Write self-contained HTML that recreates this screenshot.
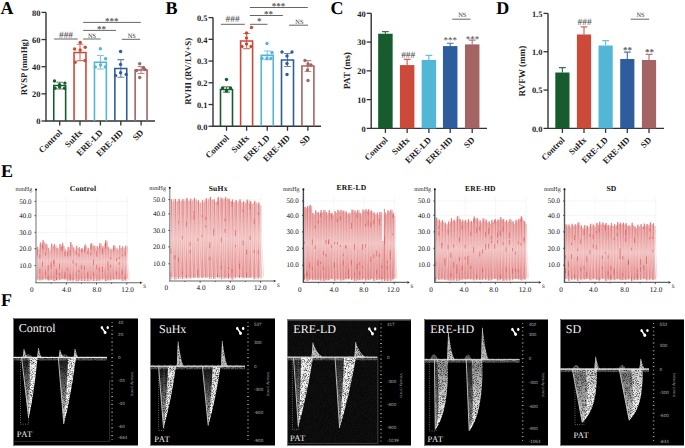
<!DOCTYPE html>
<html><head><meta charset="utf-8"><style>html,body{margin:0;padding:0;background:#fff;}svg{display:block;text-rendering:geometricPrecision;}</style></head>
<body><svg width="685" height="448" viewBox="0 0 685 448"><defs>
<linearGradient id="wg36" gradientUnits="userSpaceOnUse" x1="0" x2="0" y1="240.15" y2="282.8"><stop offset="0" stop-color="#d45a5a"/><stop offset="0.2" stop-color="#dc7272"/><stop offset="0.5" stop-color="#efb6b6"/><stop offset="0.8" stop-color="#dc7272"/><stop offset="1" stop-color="#d45a5a"/></linearGradient><linearGradient id="wg169" gradientUnits="userSpaceOnUse" x1="0" x2="0" y1="196.88" y2="281"><stop offset="0" stop-color="#d45a5a"/><stop offset="0.2" stop-color="#dc7272"/><stop offset="0.5" stop-color="#efb6b6"/><stop offset="0.8" stop-color="#dc7272"/><stop offset="1" stop-color="#d45a5a"/></linearGradient><linearGradient id="wg303" gradientUnits="userSpaceOnUse" x1="0" x2="0" y1="204.82" y2="282.4"><stop offset="0" stop-color="#d45a5a"/><stop offset="0.2" stop-color="#dc7272"/><stop offset="0.5" stop-color="#efb6b6"/><stop offset="0.8" stop-color="#dc7272"/><stop offset="1" stop-color="#d45a5a"/></linearGradient><linearGradient id="wg434" gradientUnits="userSpaceOnUse" x1="0" x2="0" y1="216.28" y2="282.4"><stop offset="0" stop-color="#d45a5a"/><stop offset="0.2" stop-color="#dc7272"/><stop offset="0.5" stop-color="#efb6b6"/><stop offset="0.8" stop-color="#dc7272"/><stop offset="1" stop-color="#d45a5a"/></linearGradient><linearGradient id="wg564" gradientUnits="userSpaceOnUse" x1="0" x2="0" y1="221.84" y2="282.4"><stop offset="0" stop-color="#d45a5a"/><stop offset="0.2" stop-color="#dc7272"/><stop offset="0.5" stop-color="#efb6b6"/><stop offset="0.8" stop-color="#dc7272"/><stop offset="1" stop-color="#d45a5a"/></linearGradient><linearGradient id="vg5" x1="0" x2="0" y1="0" y2="1"><stop offset="0" stop-color="#fff" stop-opacity="0.08"/><stop offset="1" stop-color="#fff" stop-opacity="0.9"/></linearGradient><linearGradient id="vg5b" x1="0" x2="0" y1="0" y2="1"><stop offset="0" stop-color="#fff" stop-opacity="0.95"/><stop offset="1" stop-color="#fff" stop-opacity="0.95"/></linearGradient><linearGradient id="vg7" x1="0" x2="0" y1="0" y2="1"><stop offset="0" stop-color="#fff" stop-opacity="0.06"/><stop offset="1" stop-color="#fff" stop-opacity="0.75"/></linearGradient><linearGradient id="vg7b" x1="0" x2="0" y1="0" y2="1"><stop offset="0" stop-color="#fff" stop-opacity="0.9"/><stop offset="1" stop-color="#fff" stop-opacity="0.9"/></linearGradient><linearGradient id="vg9" x1="0" x2="0" y1="0" y2="1"><stop offset="0" stop-color="#fff" stop-opacity="0.1"/><stop offset="1" stop-color="#fff" stop-opacity="0.55"/></linearGradient><linearGradient id="vg9b" x1="0" x2="0" y1="0" y2="1"><stop offset="0" stop-color="#fff" stop-opacity="0.95"/><stop offset="1" stop-color="#fff" stop-opacity="0.95"/></linearGradient><linearGradient id="vg11" x1="0" x2="0" y1="0" y2="1"><stop offset="0" stop-color="#fff" stop-opacity="0.1"/><stop offset="1" stop-color="#fff" stop-opacity="0.6"/></linearGradient><linearGradient id="vg11b" x1="0" x2="0" y1="0" y2="1"><stop offset="0" stop-color="#fff" stop-opacity="0.475"/><stop offset="1" stop-color="#fff" stop-opacity="0.95"/></linearGradient><linearGradient id="vg13" x1="0" x2="0" y1="0" y2="1"><stop offset="0" stop-color="#fff" stop-opacity="0.45"/><stop offset="1" stop-color="#fff" stop-opacity="0.85"/></linearGradient><linearGradient id="vg13b" x1="0" x2="0" y1="0" y2="1"><stop offset="0" stop-color="#fff" stop-opacity="0.63"/><stop offset="1" stop-color="#fff" stop-opacity="0.9"/></linearGradient>
<linearGradient id="vg" x1="0" x2="1" y1="0" y2="0"><stop offset="0" stop-color="#fff" stop-opacity="0.5"/><stop offset="0.55" stop-color="#fff" stop-opacity="0.75"/><stop offset="1" stop-color="#fff" stop-opacity="1"/></linearGradient>
<linearGradient id="vg2" x1="0" x2="1" y1="0" y2="0"><stop offset="0" stop-color="#fff" stop-opacity="0.05"/><stop offset="1" stop-color="#fff" stop-opacity="0.2"/></linearGradient>
<filter id="spk" filterUnits="userSpaceOnUse" x="0" y="300" width="685" height="148"><feTurbulence type="fractalNoise" baseFrequency="1.6" numOctaves="1" seed="3" result="n"/><feColorMatrix in="n" type="matrix" values="0 0 0 0 1  0 0 0 0 1  0 0 0 0 1  0 0 0 2.2 -0.25" result="m"/><feComposite in="SourceGraphic" in2="m" operator="in" result="c"/><feGaussianBlur in="c" stdDeviation="0.35"/></filter>
</defs>
<rect width="685" height="448" fill="#fff"/>
<text x="0.6" y="13.6" font-family="Liberation Serif" font-weight="bold" font-size="18">A</text>
<text x="165.6" y="13.6" font-family="Liberation Serif" font-weight="bold" font-size="18">B</text>
<text x="330.4" y="13.6" font-family="Liberation Serif" font-weight="bold" font-size="18">C</text>
<text x="496.2" y="13.6" font-family="Liberation Serif" font-weight="bold" font-size="18">D</text>
<text x="1" y="176.6" font-family="Liberation Serif" font-weight="bold" font-size="18">E</text>
<text x="1" y="305.8" font-family="Liberation Serif" font-weight="bold" font-size="18">F</text>
<path d="M46 12.4V121H155" fill="none" stroke="#333" stroke-width="1.4"/>
<line x1="41.5" y1="121" x2="46" y2="121" stroke="#333" stroke-width="1.3"/>
<text x="40.4" y="124.4" font-family="Liberation Serif" font-weight="bold" font-size="8.4" text-anchor="end" fill="#222">0</text>
<line x1="41.5" y1="93.85" x2="46" y2="93.85" stroke="#333" stroke-width="1.3"/>
<text x="40.4" y="97.25" font-family="Liberation Serif" font-weight="bold" font-size="8.4" text-anchor="end" fill="#222">20</text>
<line x1="41.5" y1="66.7" x2="46" y2="66.7" stroke="#333" stroke-width="1.3"/>
<text x="40.4" y="70.1" font-family="Liberation Serif" font-weight="bold" font-size="8.4" text-anchor="end" fill="#222">40</text>
<line x1="41.5" y1="39.55" x2="46" y2="39.55" stroke="#333" stroke-width="1.3"/>
<text x="40.4" y="42.95" font-family="Liberation Serif" font-weight="bold" font-size="8.4" text-anchor="end" fill="#222">60</text>
<line x1="41.5" y1="12.4" x2="46" y2="12.4" stroke="#333" stroke-width="1.3"/>
<text x="40.4" y="15.8" font-family="Liberation Serif" font-weight="bold" font-size="8.4" text-anchor="end" fill="#222">80</text>
<line x1="59.7" y1="121" x2="59.7" y2="125.5" stroke="#333" stroke-width="1.3"/>
<text transform="translate(62.6,133.2) rotate(-45)" font-family="Liberation Serif" font-weight="bold" font-size="8.7" text-anchor="end" fill="#222">Control</text>
<line x1="80" y1="121" x2="80" y2="125.5" stroke="#333" stroke-width="1.3"/>
<text transform="translate(82.9,133.2) rotate(-45)" font-family="Liberation Serif" font-weight="bold" font-size="8.7" text-anchor="end" fill="#222">SuHx</text>
<line x1="100.4" y1="121" x2="100.4" y2="125.5" stroke="#333" stroke-width="1.3"/>
<text transform="translate(103.3,133.2) rotate(-45)" font-family="Liberation Serif" font-weight="bold" font-size="8.7" text-anchor="end" fill="#222">ERE-LD</text>
<line x1="120.8" y1="121" x2="120.8" y2="125.5" stroke="#333" stroke-width="1.3"/>
<text transform="translate(123.7,133.2) rotate(-45)" font-family="Liberation Serif" font-weight="bold" font-size="8.7" text-anchor="end" fill="#222">ERE-HD</text>
<line x1="141.1" y1="121" x2="141.1" y2="125.5" stroke="#333" stroke-width="1.3"/>
<text transform="translate(144,133.2) rotate(-45)" font-family="Liberation Serif" font-weight="bold" font-size="8.7" text-anchor="end" fill="#222">SD</text>
<text transform="translate(27,67.2) rotate(-90)" font-family="Liberation Serif" font-weight="bold" font-size="8.8" text-anchor="middle" fill="#222">RVSP (mmHg)</text>
<path d="M53.75 121V85.57H65.65V121" fill="none" stroke="#165c2e" stroke-width="1.6"/>
<path d="M59.7 88.96V82.18M56.3 82.18H63.1M56.3 88.96H63.1" stroke="#165c2e" stroke-width="1.1" fill="none" opacity="0.75"/>
<path d="M74.05 121V52.45H85.95V121" fill="none" stroke="#cc4a3a" stroke-width="1.6"/>
<path d="M80 60.59V44.3M76.6 44.3H83.4M76.6 60.59H83.4" stroke="#cc4a3a" stroke-width="1.1" fill="none" opacity="0.75"/>
<path d="M94.45 121V62.22H106.35V121" fill="none" stroke="#52b6d6" stroke-width="1.6"/>
<path d="M100.4 69.01V55.43M97 55.43H103.8M97 69.01H103.8" stroke="#52b6d6" stroke-width="1.1" fill="none" opacity="0.75"/>
<path d="M114.85 121V68.46H126.75V121" fill="none" stroke="#2e5d9e" stroke-width="1.6"/>
<path d="M120.8 77.29V59.64M117.4 59.64H124.2M117.4 77.29H124.2" stroke="#2e5d9e" stroke-width="1.1" fill="none" opacity="0.75"/>
<path d="M135.15 121V69.96H147.05V121" fill="none" stroke="#a56464" stroke-width="1.6"/>
<path d="M141.1 73.49V66.43M137.7 66.43H144.5M137.7 73.49H144.5" stroke="#a56464" stroke-width="1.1" fill="none" opacity="0.75"/>
<circle cx="54.5" cy="81" r="1.7" fill="#165c2e"/>
<circle cx="59.5" cy="84.7" r="1.7" fill="#165c2e"/>
<circle cx="64.9" cy="83.1" r="1.7" fill="#165c2e"/>
<circle cx="55" cy="88.3" r="1.7" fill="#165c2e"/>
<circle cx="64.5" cy="88.2" r="1.7" fill="#165c2e"/>
<circle cx="59.6" cy="87" r="1.7" fill="#165c2e"/>
<circle cx="80.2" cy="42.5" r="1.7" fill="#cc4a3a"/>
<circle cx="74.6" cy="49" r="1.7" fill="#cc4a3a"/>
<circle cx="80.2" cy="50" r="1.7" fill="#cc4a3a"/>
<circle cx="85.2" cy="47.2" r="1.7" fill="#cc4a3a"/>
<circle cx="75.2" cy="62.2" r="1.7" fill="#cc4a3a"/>
<circle cx="84.9" cy="60.6" r="1.7" fill="#cc4a3a"/>
<circle cx="100.3" cy="48.7" r="1.7" fill="#52b6d6"/>
<circle cx="105.6" cy="58.7" r="1.7" fill="#52b6d6"/>
<circle cx="100.6" cy="65" r="1.7" fill="#52b6d6"/>
<circle cx="95.3" cy="66.9" r="1.7" fill="#52b6d6"/>
<circle cx="105.3" cy="66.9" r="1.7" fill="#52b6d6"/>
<circle cx="120.6" cy="51.5" r="1.7" fill="#2e5d9e"/>
<circle cx="120.6" cy="64.4" r="1.7" fill="#2e5d9e"/>
<circle cx="120.6" cy="72.7" r="1.7" fill="#2e5d9e"/>
<circle cx="115.6" cy="75.6" r="1.7" fill="#2e5d9e"/>
<circle cx="126.2" cy="74.4" r="1.7" fill="#2e5d9e"/>
<circle cx="139.7" cy="63.7" r="1.7" fill="#a56464"/>
<circle cx="139.7" cy="77.5" r="1.7" fill="#a56464"/>
<circle cx="143.5" cy="67.8" r="1.7" fill="#a56464"/>
<circle cx="145" cy="69.5" r="1.7" fill="#a56464"/>
<circle cx="136.5" cy="70.5" r="1.7" fill="#a56464"/>
<line x1="54.1" y1="39" x2="77.8" y2="39" stroke="#666" stroke-width="1"/>
<text x="66" y="37.6" font-family="Liberation Serif" font-size="9.4" text-anchor="middle" fill="#444">###</text>
<line x1="83.1" y1="39" x2="100.7" y2="39" stroke="#666" stroke-width="1"/>
<text x="92" y="37.6" font-family="Liberation Serif" font-size="6.4" text-anchor="middle" fill="#333">NS</text>
<line x1="83.1" y1="30.4" x2="116" y2="30.4" stroke="#666" stroke-width="1"/>
<text x="101.4" y="31.6" font-family="Liberation Serif" font-weight="bold" font-size="9" text-anchor="middle" fill="#555">**</text>
<line x1="83.1" y1="22.4" x2="140.9" y2="22.4" stroke="#666" stroke-width="1"/>
<text x="111.7" y="23.6" font-family="Liberation Serif" font-weight="bold" font-size="9" text-anchor="middle" fill="#555">***</text>
<line x1="121.9" y1="39.3" x2="140.2" y2="39.3" stroke="#666" stroke-width="1"/>
<text x="131.8" y="37.6" font-family="Liberation Serif" font-size="6.4" text-anchor="middle" fill="#333">NS</text>
<path d="M213 17.6V126.25H321" fill="none" stroke="#333" stroke-width="1.4"/>
<line x1="208.5" y1="126.25" x2="213" y2="126.25" stroke="#333" stroke-width="1.3"/>
<text x="207.4" y="129.65" font-family="Liberation Serif" font-weight="bold" font-size="8.4" text-anchor="end" fill="#222">0.0</text>
<line x1="208.5" y1="104.52" x2="213" y2="104.52" stroke="#333" stroke-width="1.3"/>
<text x="207.4" y="107.92" font-family="Liberation Serif" font-weight="bold" font-size="8.4" text-anchor="end" fill="#222">0.1</text>
<line x1="208.5" y1="82.79" x2="213" y2="82.79" stroke="#333" stroke-width="1.3"/>
<text x="207.4" y="86.19" font-family="Liberation Serif" font-weight="bold" font-size="8.4" text-anchor="end" fill="#222">0.2</text>
<line x1="208.5" y1="61.06" x2="213" y2="61.06" stroke="#333" stroke-width="1.3"/>
<text x="207.4" y="64.46" font-family="Liberation Serif" font-weight="bold" font-size="8.4" text-anchor="end" fill="#222">0.3</text>
<line x1="208.5" y1="39.33" x2="213" y2="39.33" stroke="#333" stroke-width="1.3"/>
<text x="207.4" y="42.73" font-family="Liberation Serif" font-weight="bold" font-size="8.4" text-anchor="end" fill="#222">0.4</text>
<line x1="208.5" y1="17.6" x2="213" y2="17.6" stroke="#333" stroke-width="1.3"/>
<text x="207.4" y="21" font-family="Liberation Serif" font-weight="bold" font-size="8.4" text-anchor="end" fill="#222">0.5</text>
<line x1="226.5" y1="126.25" x2="226.5" y2="130.75" stroke="#333" stroke-width="1.3"/>
<text transform="translate(229.4,138.45) rotate(-45)" font-family="Liberation Serif" font-weight="bold" font-size="8.7" text-anchor="end" fill="#222">Control</text>
<line x1="246.6" y1="126.25" x2="246.6" y2="130.75" stroke="#333" stroke-width="1.3"/>
<text transform="translate(249.5,138.45) rotate(-45)" font-family="Liberation Serif" font-weight="bold" font-size="8.7" text-anchor="end" fill="#222">SuHx</text>
<line x1="267.25" y1="126.25" x2="267.25" y2="130.75" stroke="#333" stroke-width="1.3"/>
<text transform="translate(270.15,138.45) rotate(-45)" font-family="Liberation Serif" font-weight="bold" font-size="8.7" text-anchor="end" fill="#222">ERE-LD</text>
<line x1="287.5" y1="126.25" x2="287.5" y2="130.75" stroke="#333" stroke-width="1.3"/>
<text transform="translate(290.4,138.45) rotate(-45)" font-family="Liberation Serif" font-weight="bold" font-size="8.7" text-anchor="end" fill="#222">ERE-HD</text>
<line x1="307.9" y1="126.25" x2="307.9" y2="130.75" stroke="#333" stroke-width="1.3"/>
<text transform="translate(310.8,138.45) rotate(-45)" font-family="Liberation Serif" font-weight="bold" font-size="8.7" text-anchor="end" fill="#222">SD</text>
<text transform="translate(191,71.3) rotate(-90)" font-family="Liberation Serif" font-weight="bold" font-size="8.8" text-anchor="middle" fill="#222">RVHI (RV/LV+S)</text>
<path d="M220.5 126.25V89.53H232.5V126.25" fill="none" stroke="#165c2e" stroke-width="1.6"/>
<path d="M226.5 92.13V86.92M223.1 86.92H229.9M223.1 92.13H229.9" stroke="#165c2e" stroke-width="1.1" fill="none" opacity="0.75"/>
<path d="M240.6 126.25V41.07H252.6V126.25" fill="none" stroke="#cc4a3a" stroke-width="1.6"/>
<path d="M246.6 48.67V33.46M243.2 33.46H250M243.2 48.67H250" stroke="#cc4a3a" stroke-width="1.1" fill="none" opacity="0.75"/>
<path d="M261.25 126.25V55.41H273.25V126.25" fill="none" stroke="#52b6d6" stroke-width="1.6"/>
<path d="M267.25 59.76V51.06M263.85 51.06H270.65M263.85 59.76H270.65" stroke="#52b6d6" stroke-width="1.1" fill="none" opacity="0.75"/>
<path d="M281.5 126.25V59.97H293.5V126.25" fill="none" stroke="#2e5d9e" stroke-width="1.6"/>
<path d="M287.5 66.49V53.45M284.1 53.45H290.9M284.1 66.49H290.9" stroke="#2e5d9e" stroke-width="1.1" fill="none" opacity="0.75"/>
<path d="M301.9 126.25V66.06H313.9V126.25" fill="none" stroke="#a56464" stroke-width="1.6"/>
<path d="M307.9 71.49V60.63M304.5 60.63H311.3M304.5 71.49H311.3" stroke="#a56464" stroke-width="1.1" fill="none" opacity="0.75"/>
<circle cx="226.5" cy="79.5" r="1.7" fill="#165c2e"/>
<circle cx="222.5" cy="88" r="1.7" fill="#165c2e"/>
<circle cx="230.5" cy="88" r="1.7" fill="#165c2e"/>
<circle cx="226.5" cy="91" r="1.7" fill="#165c2e"/>
<circle cx="246.5" cy="33" r="1.7" fill="#cc4a3a"/>
<circle cx="246.5" cy="38" r="1.7" fill="#cc4a3a"/>
<circle cx="251.5" cy="27.5" r="1.7" fill="#cc4a3a"/>
<circle cx="242" cy="46.5" r="1.7" fill="#cc4a3a"/>
<circle cx="251" cy="46.5" r="1.7" fill="#cc4a3a"/>
<circle cx="246.5" cy="44" r="1.7" fill="#cc4a3a"/>
<circle cx="267" cy="43.5" r="1.7" fill="#52b6d6"/>
<circle cx="272" cy="52.5" r="1.7" fill="#52b6d6"/>
<circle cx="267" cy="58.5" r="1.7" fill="#52b6d6"/>
<circle cx="262" cy="58.5" r="1.7" fill="#52b6d6"/>
<circle cx="271" cy="58.5" r="1.7" fill="#52b6d6"/>
<circle cx="282" cy="52" r="1.7" fill="#2e5d9e"/>
<circle cx="292" cy="52" r="1.7" fill="#2e5d9e"/>
<circle cx="287" cy="56" r="1.7" fill="#2e5d9e"/>
<circle cx="287" cy="63.5" r="1.7" fill="#2e5d9e"/>
<circle cx="287" cy="74.5" r="1.7" fill="#2e5d9e"/>
<circle cx="305" cy="60.5" r="1.7" fill="#a56464"/>
<circle cx="308" cy="64" r="1.7" fill="#a56464"/>
<circle cx="307.5" cy="70" r="1.7" fill="#a56464"/>
<circle cx="308" cy="80.5" r="1.7" fill="#a56464"/>
<circle cx="311" cy="65" r="1.7" fill="#a56464"/>
<line x1="220.9" y1="24.3" x2="244.8" y2="24.3" stroke="#666" stroke-width="1"/>
<text x="232.6" y="22.4" font-family="Liberation Serif" font-size="9.4" text-anchor="middle" fill="#444">###</text>
<line x1="249.9" y1="24.3" x2="267.5" y2="24.3" stroke="#666" stroke-width="1"/>
<text x="259.2" y="24.2" font-family="Liberation Serif" font-weight="bold" font-size="9" text-anchor="middle" fill="#555">*</text>
<line x1="249.9" y1="15.5" x2="282.9" y2="15.5" stroke="#666" stroke-width="1"/>
<text x="268.5" y="16.5" font-family="Liberation Serif" font-weight="bold" font-size="9" text-anchor="middle" fill="#555">**</text>
<line x1="249.9" y1="7.5" x2="307.8" y2="7.5" stroke="#666" stroke-width="1"/>
<text x="278.5" y="8.5" font-family="Liberation Serif" font-weight="bold" font-size="9" text-anchor="middle" fill="#555">***</text>
<line x1="289.1" y1="25.2" x2="308" y2="25.2" stroke="#666" stroke-width="1"/>
<text x="299.4" y="23.6" font-family="Liberation Serif" font-size="6.4" text-anchor="middle" fill="#333">NS</text>
<path d="M371.2 13.3V128.4H487" fill="none" stroke="#333" stroke-width="1.4"/>
<line x1="366.7" y1="128.4" x2="371.2" y2="128.4" stroke="#333" stroke-width="1.3"/>
<text x="365.6" y="131.8" font-family="Liberation Serif" font-weight="bold" font-size="8.4" text-anchor="end" fill="#222">0</text>
<line x1="366.7" y1="99.62" x2="371.2" y2="99.62" stroke="#333" stroke-width="1.3"/>
<text x="365.6" y="103.03" font-family="Liberation Serif" font-weight="bold" font-size="8.4" text-anchor="end" fill="#222">10</text>
<line x1="366.7" y1="70.85" x2="371.2" y2="70.85" stroke="#333" stroke-width="1.3"/>
<text x="365.6" y="74.25" font-family="Liberation Serif" font-weight="bold" font-size="8.4" text-anchor="end" fill="#222">20</text>
<line x1="366.7" y1="42.07" x2="371.2" y2="42.07" stroke="#333" stroke-width="1.3"/>
<text x="365.6" y="45.47" font-family="Liberation Serif" font-weight="bold" font-size="8.4" text-anchor="end" fill="#222">30</text>
<line x1="366.7" y1="13.3" x2="371.2" y2="13.3" stroke="#333" stroke-width="1.3"/>
<text x="365.6" y="16.7" font-family="Liberation Serif" font-weight="bold" font-size="8.4" text-anchor="end" fill="#222">40</text>
<line x1="385.4" y1="128.4" x2="385.4" y2="132.9" stroke="#333" stroke-width="1.3"/>
<text transform="translate(388.3,140.6) rotate(-45)" font-family="Liberation Serif" font-weight="bold" font-size="8.7" text-anchor="end" fill="#222">Control</text>
<line x1="407.15" y1="128.4" x2="407.15" y2="132.9" stroke="#333" stroke-width="1.3"/>
<text transform="translate(410.05,140.6) rotate(-45)" font-family="Liberation Serif" font-weight="bold" font-size="8.7" text-anchor="end" fill="#222">SuHx</text>
<line x1="428.9" y1="128.4" x2="428.9" y2="132.9" stroke="#333" stroke-width="1.3"/>
<text transform="translate(431.8,140.6) rotate(-45)" font-family="Liberation Serif" font-weight="bold" font-size="8.7" text-anchor="end" fill="#222">ERE-LD</text>
<line x1="450.2" y1="128.4" x2="450.2" y2="132.9" stroke="#333" stroke-width="1.3"/>
<text transform="translate(453.1,140.6) rotate(-45)" font-family="Liberation Serif" font-weight="bold" font-size="8.7" text-anchor="end" fill="#222">ERE-HD</text>
<line x1="472.2" y1="128.4" x2="472.2" y2="132.9" stroke="#333" stroke-width="1.3"/>
<text transform="translate(475.1,140.6) rotate(-45)" font-family="Liberation Serif" font-weight="bold" font-size="8.7" text-anchor="end" fill="#222">SD</text>
<text transform="translate(350.1,70.7) rotate(-90)" font-family="Liberation Serif" font-weight="bold" font-size="9.4" text-anchor="middle" fill="#222">PAT (ms)</text>
<rect x="378.15" y="33.73" width="14.5" height="94.67" fill="#165c2e"/>
<path d="M385.4 33.73V31.72M382 31.72H388.8" stroke="#165c2e" stroke-width="1.2" fill="none" opacity="0.85"/>
<rect x="399.9" y="65.09" width="14.5" height="63.31" fill="#cc4a3a"/>
<path d="M407.15 65.09V59.34M403.75 59.34H410.55" stroke="#cc4a3a" stroke-width="1.2" fill="none" opacity="0.85"/>
<rect x="421.65" y="59.92" width="14.5" height="68.48" fill="#52b6d6"/>
<path d="M428.9 59.92V55.31M425.5 55.31H432.3" stroke="#52b6d6" stroke-width="1.2" fill="none" opacity="0.85"/>
<rect x="442.95" y="46.1" width="14.5" height="82.3" fill="#2e5d9e"/>
<path d="M450.2 46.1V43.23M446.8 43.23H453.6" stroke="#2e5d9e" stroke-width="1.2" fill="none" opacity="0.85"/>
<rect x="464.95" y="44.38" width="14.5" height="84.02" fill="#a56464"/>
<path d="M472.2 44.38V40.06M468.8 40.06H475.6" stroke="#a56464" stroke-width="1.2" fill="none" opacity="0.85"/>
<line x1="452.2" y1="19.2" x2="470.5" y2="19.2" stroke="#666" stroke-width="1"/>
<text x="462.3" y="17.3" font-family="Liberation Serif" font-size="6.4" text-anchor="middle" fill="#333">NS</text>
<text x="408.2" y="57.6" font-family="Liberation Serif" font-size="9.4" text-anchor="middle" fill="#444">###</text>
<text x="450.3" y="43.2" font-family="Liberation Serif" font-size="9" text-anchor="middle" fill="#333">***</text>
<text x="472.5" y="41.8" font-family="Liberation Serif" font-size="9" text-anchor="middle" fill="#333">***</text>
<path d="M548 13.4V128.4H664" fill="none" stroke="#333" stroke-width="1.4"/>
<line x1="543.5" y1="128.4" x2="548" y2="128.4" stroke="#333" stroke-width="1.3"/>
<text x="542.4" y="131.8" font-family="Liberation Serif" font-weight="bold" font-size="8.4" text-anchor="end" fill="#222">0.0</text>
<line x1="543.5" y1="90.07" x2="548" y2="90.07" stroke="#333" stroke-width="1.3"/>
<text x="542.4" y="93.47" font-family="Liberation Serif" font-weight="bold" font-size="8.4" text-anchor="end" fill="#222">0.5</text>
<line x1="543.5" y1="51.73" x2="548" y2="51.73" stroke="#333" stroke-width="1.3"/>
<text x="542.4" y="55.13" font-family="Liberation Serif" font-weight="bold" font-size="8.4" text-anchor="end" fill="#222">1.0</text>
<line x1="543.5" y1="13.4" x2="548" y2="13.4" stroke="#333" stroke-width="1.3"/>
<text x="542.4" y="16.8" font-family="Liberation Serif" font-weight="bold" font-size="8.4" text-anchor="end" fill="#222">1.5</text>
<line x1="562.4" y1="128.4" x2="562.4" y2="132.9" stroke="#333" stroke-width="1.3"/>
<text transform="translate(565.3,140.6) rotate(-45)" font-family="Liberation Serif" font-weight="bold" font-size="8.7" text-anchor="end" fill="#222">Control</text>
<line x1="584" y1="128.4" x2="584" y2="132.9" stroke="#333" stroke-width="1.3"/>
<text transform="translate(586.9,140.6) rotate(-45)" font-family="Liberation Serif" font-weight="bold" font-size="8.7" text-anchor="end" fill="#222">SuHx</text>
<line x1="605.6" y1="128.4" x2="605.6" y2="132.9" stroke="#333" stroke-width="1.3"/>
<text transform="translate(608.5,140.6) rotate(-45)" font-family="Liberation Serif" font-weight="bold" font-size="8.7" text-anchor="end" fill="#222">ERE-LD</text>
<line x1="627.3" y1="128.4" x2="627.3" y2="132.9" stroke="#333" stroke-width="1.3"/>
<text transform="translate(630.2,140.6) rotate(-45)" font-family="Liberation Serif" font-weight="bold" font-size="8.7" text-anchor="end" fill="#222">ERE-HD</text>
<line x1="649" y1="128.4" x2="649" y2="132.9" stroke="#333" stroke-width="1.3"/>
<text transform="translate(651.9,140.6) rotate(-45)" font-family="Liberation Serif" font-weight="bold" font-size="8.7" text-anchor="end" fill="#222">SD</text>
<text transform="translate(525,71.2) rotate(-90)" font-family="Liberation Serif" font-weight="bold" font-size="9.1" text-anchor="middle" fill="#222">RVFW (mm)</text>
<rect x="555.3" y="72.51" width="14.2" height="55.89" fill="#165c2e"/>
<path d="M562.4 72.51V67.53M559 67.53H565.8" stroke="#165c2e" stroke-width="1.2" fill="none" opacity="0.85"/>
<rect x="576.9" y="34.48" width="14.2" height="93.92" fill="#cc4a3a"/>
<path d="M584 34.48V26.82M580.6 26.82H587.4" stroke="#cc4a3a" stroke-width="1.2" fill="none" opacity="0.85"/>
<rect x="598.5" y="45.52" width="14.2" height="82.88" fill="#52b6d6"/>
<path d="M605.6 45.52V40.69M602.2 40.69H609" stroke="#52b6d6" stroke-width="1.2" fill="none" opacity="0.85"/>
<rect x="620.2" y="59.02" width="14.2" height="69.38" fill="#2e5d9e"/>
<path d="M627.3 59.02V52.12M623.9 52.12H630.7" stroke="#2e5d9e" stroke-width="1.2" fill="none" opacity="0.85"/>
<rect x="641.9" y="60.01" width="14.2" height="68.39" fill="#a56464"/>
<path d="M649 60.01V54.42M645.6 54.42H652.4" stroke="#a56464" stroke-width="1.2" fill="none" opacity="0.85"/>
<line x1="630.7" y1="19.2" x2="649.2" y2="19.2" stroke="#666" stroke-width="1"/>
<text x="640.5" y="17.3" font-family="Liberation Serif" font-size="6.4" text-anchor="middle" fill="#333">NS</text>
<text x="584.6" y="25" font-family="Liberation Serif" font-size="9.4" text-anchor="middle" fill="#444">###</text>
<text x="627.4" y="53.2" font-family="Liberation Serif" font-weight="bold" font-size="9" text-anchor="middle" fill="#555">**</text>
<text x="649.6" y="55.2" font-family="Liberation Serif" font-weight="bold" font-size="9" text-anchor="middle" fill="#555">**</text>
<line x1="36" y1="265.6" x2="128" y2="265.6" stroke="#eee" stroke-width="0.6"/>
<line x1="36" y1="248.7" x2="128" y2="248.7" stroke="#eee" stroke-width="0.6"/>
<line x1="36" y1="232.3" x2="128" y2="232.3" stroke="#eee" stroke-width="0.6"/>
<line x1="36" y1="215.7" x2="128" y2="215.7" stroke="#eee" stroke-width="0.6"/>
<line x1="36" y1="201.4" x2="128" y2="201.4" stroke="#eee" stroke-width="0.6"/>
<line x1="66.4" y1="196.8" x2="66.4" y2="282.8" stroke="#f0f0f0" stroke-width="0.6"/>
<line x1="96.8" y1="196.8" x2="96.8" y2="282.8" stroke="#f0f0f0" stroke-width="0.6"/>
<line x1="127.2" y1="196.8" x2="127.2" y2="282.8" stroke="#f0f0f0" stroke-width="0.6"/>
<polygon points="37,278.8 37.2,247.94 38.59,249.94 40,243.43 41.39,245.43 42.7,241.31 44.09,243.31 45.68,244.64 47.08,246.64 48.33,249.16 49.73,251.16 51.26,244.5 52.65,246.5 54.08,244.96 55.47,246.96 56.72,248.65 58.12,250.65 59.63,245.08 61.02,247.08 62.26,244.04 63.65,246.04 65.12,250.46 66.51,252.46 67.77,247.91 69.16,249.91 70.43,243.01 71.83,245.01 73.29,248.3 74.68,250.3 76.38,246.84 77.77,248.84 79.06,248.19 80.45,250.19 81.8,249.24 83.19,251.24 84.77,245.42 86.17,247.42 87.93,249.05 89.33,251.05 90.88,244.19 92.27,246.19 93.72,246.55 95.11,248.55 96.89,247.17 98.29,249.17 99.53,244.18 100.93,246.18 102.64,247.19 104.03,249.19 105.42,241.15 106.81,243.15 108.11,248.12 109.51,250.12 110.79,250.08 112.18,252.08 113.58,246.01 114.97,248.01 116.66,249.42 118.06,251.42 119.38,246.41 120.77,248.41 122.32,247.22 123.72,249.22 125.3,246.72 126.7,248.72 126.84,278.8" fill="#f5d3d3"/>
<path d="M37 280.14L37.7 246.94L38.3 260.94L39.5 278.37L39.8 280.39L40.5 242.43L41.1 262.99L42.2 280.09L42.5 279.62L43.2 240.31L43.8 255.45L45.18 279.16L45.48 279.41L46.18 243.64L46.79 257.83L47.83 278.44L48.13 280.35L48.83 248.16L49.44 263.22L50.76 279.83L51.06 279.97L51.76 243.5L52.36 256.3L53.58 279.13L53.88 281.18L54.58 243.96L55.18 259.74L56.22 280.05L56.52 279.9L57.22 247.65L57.83 265.09L59.13 278.52L59.43 280.01L60.13 244.08L60.73 260.36L61.76 278.77L62.06 279.31L62.76 243.04L63.36 260.64L64.62 279.21L64.92 279.66L65.62 249.46L66.22 265.46L67.27 278.1L67.57 280.73L68.27 246.91L68.87 264.66L69.93 279.14L70.23 280.53L70.93 242.01L71.54 258.52L72.79 279.73L73.09 279.96L73.79 247.3L74.39 259.41L75.88 278.69L76.18 281.25L76.88 245.84L77.48 258.67L78.56 281.12L78.86 280.38L79.56 247.19L80.16 260.19L81.3 280.05L81.6 280.96L82.3 248.24L82.9 261.92L84.27 280.86L84.57 281.07L85.27 244.42L85.88 257.25L87.43 280.76L87.73 281.18L88.43 248.05L89.04 260.32L90.38 280.45L90.68 279.76L91.38 243.19L91.98 256.18L93.22 278.01L93.52 281.04L94.22 245.55L94.82 262.33L96.39 280.74L96.69 280.8L97.39 246.17L98 260.04L99.03 280.11L99.33 280.52L100.03 243.18L100.64 258.97L102.14 280.27L102.44 279.56L103.14 246.19L103.74 263.53L104.92 277.57L105.22 281.14L105.92 240.15L106.52 258.32L107.61 280.17L107.91 280.4L108.61 247.12L109.22 259.34L110.29 280.2L110.59 280.2L111.29 249.08L111.89 262.1L113.08 279.67L113.38 279.53L114.08 245.01L114.68 262.82L116.16 279.21L116.46 279.66L117.16 248.42L117.77 259.5L118.88 277.76L119.18 279.57L119.88 245.41L120.48 260.98L121.82 279.28L122.12 280.74L122.82 246.22L123.43 262.05L124.8 280.69L125.1 280.47L125.8 245.72L126.41 261.55L127.7 278.51" fill="none" stroke="url(#wg36)" stroke-width="0.55" stroke-linejoin="round" opacity="0.8"/>
<path d="M38.45 280.14L39.15 249.53L39.76 264.51L40.95 279.62L41.25 280.39L41.95 243.53L42.55 257.66L43.65 278.84L43.95 279.62L44.65 241.91L45.25 260.98L46.63 278.96L46.93 279.41L47.63 244.31L48.24 262.29L49.28 277.44L49.58 280.35L50.28 250.71L50.89 265.86L52.21 278.72L52.51 279.97L53.21 245.72L53.81 259.26L55.03 278.94L55.33 281.18L56.03 245.03L56.63 257.89L57.67 281.12L57.97 279.9L58.67 248.49L59.28 261.11L60.58 278.51L60.88 280.01L61.58 246.95L62.18 261.47L63.21 278.13L63.51 279.31L64.21 246.01L64.81 264.03L66.07 278.58L66.37 279.66L67.07 250.13L67.67 261.8L68.72 279.26L69.02 280.73L69.72 247.52L70.32 263.29L71.38 278.93L71.68 280.53L72.38 244.53L72.99 260.58L74.24 279.22L74.54 279.96L75.24 249.7L75.84 260.8L77.33 278.64L77.63 281.25L78.33 248.56L78.93 265.12L80.01 279.75L80.31 280.38L81.01 248.62L81.61 260.87L82.75 278.8L83.05 280.96L83.75 249.24L84.35 265.42L85.72 279.02L86.02 281.07L86.72 245.61L87.33 260.87L88.88 279.17L89.18 281.18L89.88 250.23L90.49 262.11L91.83 280.93L92.13 279.76L92.83 243.64L93.43 262.82L94.67 278.15L94.97 281.04L95.67 245.98L96.27 264.05L97.84 279.08L98.14 280.8L98.84 248.15L99.45 261.87L100.48 279.71L100.78 280.52L101.48 243.58L102.09 256.61L103.59 278.58L103.89 279.56L104.59 248.14L105.19 262.44L106.37 277.69L106.67 281.14L107.37 241.45L107.97 262.26L109.06 279.49L109.36 280.4L110.06 247.75L110.67 260.83L111.74 279.82L112.04 280.2L112.74 249.8L113.34 264.01L114.53 279.68L114.83 279.53L115.53 246.27L116.13 258.78L117.61 277.71L117.91 279.66L118.61 249.48L119.22 262.81L120.33 278.49L120.63 279.57L121.33 248.13L121.93 261.78L123.27 277.74L123.57 280.74L124.27 247.72L124.88 262.79L126.25 279.7L126.55 280.47L127.25 245.78L127.86 260.97L129.15 280.1" fill="none" stroke="url(#wg36)" stroke-width="0.5" stroke-linejoin="round" opacity="0.5"/>
<path d="M37.35 280.14V246.94M40.15 280.39V242.43M42.85 279.62V240.31M45.83 279.41V243.64M48.48 280.35V248.16M51.41 279.97V243.5M54.23 281.18V243.96M56.87 279.9V247.65M59.78 280.01V244.08M62.41 279.31V243.04M65.27 279.66V249.46M67.92 280.73V246.91M70.58 280.53V242.01M73.44 279.96V247.3M76.53 281.25V245.84M79.21 280.38V247.19M81.95 280.96V248.24M84.92 281.07V244.42M88.08 281.18V248.05M91.03 279.76V243.19M93.87 281.04V245.55M97.04 280.8V246.17M99.68 280.52V243.18M102.79 279.56V246.19M105.57 281.14V240.15M108.26 280.4V247.12M110.94 280.2V249.08M113.73 279.53V245.01M116.81 279.66V248.42M119.53 279.57V245.41M122.47 280.74V246.22M125.45 280.47V245.72" fill="none" stroke="url(#wg36)" stroke-width="0.6" opacity="0.7"/>
<path d="M37 247.07V252.26M37 252.43V256.33M39.8 268.81V273.03M39.8 254.29V258.36M42.5 261.69V266.83M42.5 244.39V248.63M45.48 252.38V255.49M45.48 270.79V274.82M48.13 265.37V270.41M48.13 276.12V279.89M51.06 265.12V269.15M51.06 261.58V266.35M53.88 259.72V263.85M53.88 260.62V266.38M56.52 269.43V274.94M56.52 277V280.04M59.43 263.5V269.28M59.43 273.24V275.79M62.06 247.39V251.16M62.06 245.64V248.6M64.92 251.61V256.29M64.92 272.46V278.05M67.57 251.84V256.7M67.57 267.97V270.54M70.23 274.49V280.36M70.23 250.09V255.9M73.09 259.84V263.79M73.09 278.48V281.8M76.18 251.16V254.88M76.18 262.83V266.19M78.86 253.38V256.65M78.86 270.02V272.09M81.6 265.17V268.93M81.6 248.79V252.12M84.57 265.87V269.92M84.57 246.63V252.57M87.73 272.29V278.18M87.73 251.27V254.33M90.68 244.6V249.72M90.68 252.82V255.34M93.52 259.59V265.23M93.52 272.78V275.81M96.69 251.05V256.72M96.69 264.79V269.59M99.33 246.37V248.6M99.33 267.69V271.4M102.44 248.55V254.31M102.44 266.88V272.09M105.22 243.39V248.81M105.22 242.73V248.18M107.91 261.5V264.85M107.91 264.64V270.35M110.59 257.04V259.56M110.59 264.74V267.69M113.38 248.71V251.36M113.38 246.71V249.52M116.46 257.9V261.12M116.46 271.49V274.65M119.18 262.11V264.82M119.18 257V259.07M122.12 254.38V256.44M122.12 270.1V274.31M125.1 251.99V255.89M125.1 276.64V279.06" fill="none" stroke="#d65858" stroke-width="0.8" opacity="0.8"/>
<line x1="36" y1="189.6" x2="36" y2="282.8" stroke="#999" stroke-width="1.4"/>
<circle cx="36" cy="189.6" r="1" fill="#111"/>
<line x1="35.3" y1="282.8" x2="140" y2="282.8" stroke="#666" stroke-width="1.1"/>
<path d="M140 281.5L142.5 282.8L140 284.1Z" fill="#333"/>
<text x="143.2" y="288.4" font-family="Liberation Serif" font-size="7.4" fill="#333">s</text>
<path d="M66.4 282.8v1.8M96.5 282.8v1.8M126.8 282.8v1.8M51.2 282.8v1M81.5 282.8v1M111.6 282.8v1" stroke="#333" stroke-width="0.8"/>
<text x="32.2" y="191.4" font-family="Liberation Serif" font-size="6" text-anchor="end" fill="#222">mmHg</text>
<text x="31.4" y="267.8" font-family="Liberation Serif" font-size="7" text-anchor="end" fill="#111">10.0</text>
<line x1="34.5" y1="265.6" x2="36" y2="265.6" stroke="#333" stroke-width="0.8"/>
<text x="31.4" y="250.9" font-family="Liberation Serif" font-size="7" text-anchor="end" fill="#111">20.0</text>
<line x1="34.5" y1="248.7" x2="36" y2="248.7" stroke="#333" stroke-width="0.8"/>
<text x="31.4" y="234.5" font-family="Liberation Serif" font-size="7" text-anchor="end" fill="#111">30.0</text>
<line x1="34.5" y1="232.3" x2="36" y2="232.3" stroke="#333" stroke-width="0.8"/>
<text x="31.4" y="217.9" font-family="Liberation Serif" font-size="7" text-anchor="end" fill="#111">40.0</text>
<line x1="34.5" y1="215.7" x2="36" y2="215.7" stroke="#333" stroke-width="0.8"/>
<text x="31.4" y="203.6" font-family="Liberation Serif" font-size="7" text-anchor="end" fill="#111">50.0</text>
<line x1="34.5" y1="201.4" x2="36" y2="201.4" stroke="#333" stroke-width="0.8"/>
<text x="31.8" y="292.2" font-family="Liberation Serif" font-size="7.2" text-anchor="middle" fill="#111">0</text>
<text x="66.6" y="292.2" font-family="Liberation Serif" font-size="7.2" text-anchor="middle" fill="#111">4.0</text>
<text x="96.9" y="292.2" font-family="Liberation Serif" font-size="7.2" text-anchor="middle" fill="#111">8.0</text>
<text x="127.6" y="292.2" font-family="Liberation Serif" font-size="7.2" text-anchor="middle" fill="#111">12.0</text>
<text x="83" y="191" font-family="Liberation Serif" font-weight="bold" font-size="7.6" letter-spacing="0.2" text-anchor="middle" fill="#111">Control</text>
<line x1="169.75" y1="263.8" x2="261.75" y2="263.8" stroke="#eee" stroke-width="0.6"/>
<line x1="169.75" y1="246.9" x2="261.75" y2="246.9" stroke="#eee" stroke-width="0.6"/>
<line x1="169.75" y1="230.5" x2="261.75" y2="230.5" stroke="#eee" stroke-width="0.6"/>
<line x1="169.75" y1="213.9" x2="261.75" y2="213.9" stroke="#eee" stroke-width="0.6"/>
<line x1="169.75" y1="199.6" x2="261.75" y2="199.6" stroke="#eee" stroke-width="0.6"/>
<line x1="200.15" y1="195" x2="200.15" y2="281" stroke="#f0f0f0" stroke-width="0.6"/>
<line x1="230.55" y1="195" x2="230.55" y2="281" stroke="#f0f0f0" stroke-width="0.6"/>
<line x1="260.95" y1="195" x2="260.95" y2="281" stroke="#f0f0f0" stroke-width="0.6"/>
<polygon points="170.75,277 170.95,200.23 172.84,202.23 174.99,199.86 176.88,201.86 178.74,199.83 180.63,201.83 182.54,200.21 184.43,202.21 186.59,198.89 188.48,200.89 190.31,199.72 192.2,201.72 194.12,198.85 196.01,200.85 198.06,201.14 199.95,203.14 202.22,200.94 204.11,202.94 205.9,199.2 207.79,201.2 209.96,197.88 211.85,199.88 213.91,200.25 215.8,202.25 217.82,198.13 219.71,200.13 221.55,198.76 223.44,200.76 225.23,197.93 227.12,199.93 228.69,199.72 230.58,201.72 232.21,200.49 234.1,202.49 235.68,201.01 237.57,203.01 239.67,200.41 241.56,202.41 243.28,201.95 245.17,203.95 246.82,200.58 248.71,202.58 250.31,201.94 252.2,203.94 254.37,201.81 256.26,203.81 258.45,203.42 260.34,205.42 260.53,277" fill="#f5d3d3"/>
<path d="M170.75 279.42L171.45 199.23L172.46 235.38L174.49 277.75L174.79 279.46L175.49 198.86L176.5 240.04L178.24 277.8L178.54 278.89L179.24 198.83L180.25 236.2L182.04 277.11L182.34 279.03L183.04 199.21L184.05 238.05L186.09 277.65L186.39 278.33L187.09 197.89L188.1 229.74L189.81 278.27L190.11 278.44L190.81 198.72L191.82 228.74L193.62 277.72L193.92 278L194.62 197.85L195.63 227.58L197.56 276.33L197.86 278.18L198.56 200.14L199.57 236.17L201.72 276.93L202.02 278.07L202.72 199.94L203.73 237.07L205.4 276.71L205.7 277.74L206.4 198.2L207.41 233.82L209.46 277.74L209.76 278.72L210.46 196.88L211.47 238.58L213.41 277.22L213.71 278.85L214.41 199.25L215.42 235.12L217.32 277.78L217.62 277.53L218.32 197.13L219.33 235.87L221.05 277.4L221.35 279.2L222.05 197.76L223.06 238.26L224.73 278.7L225.03 278.05L225.73 196.93L226.74 226.53L228.19 277.52L228.49 278.21L229.19 198.72L230.2 238.14L231.71 277.8L232.01 279.41L232.71 199.49L233.72 239.29L235.18 277.46L235.48 277.83L236.18 200.01L237.19 234.94L239.17 277.06L239.47 277.72L240.17 199.41L241.18 234.32L242.78 276.35L243.08 278.25L243.78 200.95L244.79 239.86L246.32 277.01L246.62 278.03L247.32 199.58L248.33 237.13L249.81 277.88L250.11 277.88L250.81 200.94L251.82 230.14L253.87 277.37L254.17 279.22L254.87 200.81L255.88 239.91L257.95 278.61L258.25 278.45L258.95 202.42L259.96 237.67L261.75 278.43" fill="none" stroke="url(#wg169)" stroke-width="0.55" stroke-linejoin="round" opacity="0.8"/>
<path d="M172.65 279.42L173.35 199.41L174.36 231.71L176.39 278.07L176.69 279.46L177.39 200.93L178.4 239.03L180.14 278.87L180.44 278.89L181.14 200.38L182.15 235.15L183.94 277.96L184.24 279.03L184.94 199.57L185.95 241.58L187.99 278.64L188.29 278.33L188.99 200.83L190 242.46L191.71 278.29L192.01 278.44L192.71 200.1L193.72 240.36L195.52 276.51L195.82 278L196.52 199.19L197.53 231.01L199.46 277.58L199.76 278.18L200.46 202.97L201.47 232.47L203.62 277.02L203.92 278.07L204.62 200.36L205.63 235.7L207.3 276.16L207.6 277.74L208.3 198.6L209.31 239.28L211.36 276.72L211.66 278.72L212.36 199.54L213.37 238.39L215.31 278.26L215.61 278.85L216.31 201.94L217.32 236.34L219.22 278.8L219.52 277.53L220.22 197.15L221.23 233.19L222.95 276.63L223.25 279.2L223.95 198.67L224.96 229.12L226.63 278.51L226.93 278.05L227.63 197.88L228.64 239.41L230.09 278.05L230.39 278.21L231.09 200.97L232.1 240.97L233.61 277.97L233.91 279.41L234.61 202.27L235.62 240.27L237.08 277.61L237.38 277.83L238.08 200.88L239.09 233.54L241.07 277.04L241.37 277.72L242.07 202.41L243.08 237.64L244.68 276.99L244.98 278.25L245.68 202.23L246.69 233.02L248.22 278.15L248.52 278.03L249.22 199.89L250.23 240.28L251.71 277.46L252.01 277.88L252.71 203.75L253.72 233.39L255.77 277.34L256.07 279.22L256.77 202.34L257.78 232.17L259.85 278.47L260.15 278.45L260.85 205.29L261.86 243.84L263.65 276.83" fill="none" stroke="url(#wg169)" stroke-width="0.5" stroke-linejoin="round" opacity="0.5"/>
<path d="M171.1 279.42V199.23M175.14 279.46V198.86M178.89 278.89V198.83M182.69 279.03V199.21M186.74 278.33V197.89M190.46 278.44V198.72M194.27 278V197.85M198.21 278.18V200.14M202.37 278.07V199.94M206.05 277.74V198.2M210.11 278.72V196.88M214.06 278.85V199.25M217.97 277.53V197.13M221.7 279.2V197.76M225.38 278.05V196.93M228.84 278.21V198.72M232.36 279.41V199.49M235.83 277.83V200.01M239.82 277.72V199.41M243.43 278.25V200.95M246.97 278.03V199.58M250.46 277.88V200.94M254.52 279.22V200.81M258.6 278.45V202.42" fill="none" stroke="url(#wg169)" stroke-width="0.6" opacity="0.7"/>
<path d="M170.75 248.29V253.95M170.75 272.39V276.59M174.79 255.09V257.28M174.79 256.09V259.89M178.54 257.67V262.24M178.54 221.2V223.4M182.34 271.3V273.81M182.34 235.94V239.32M186.39 221.45V226.4M186.39 275.12V278.17M190.11 250.07V253.27M190.11 242.35V245.92M193.92 211.09V213.74M193.92 214.3V219.92M197.86 238.34V241.22M197.86 269.79V275.78M202.02 234.61V237.17M202.02 214.77V217.13M205.7 225.14V227.51M205.7 217.04V220.07M209.76 242.52V248.07M209.76 256.94V260.59M213.71 231.43V235.53M213.71 228.55V231.9M217.62 202.09V205.2M217.62 274.42V276.92M221.35 237.65V242.17M221.35 266.13V269M225.03 218.63V221.62M225.03 228.94V232.72M228.49 273.39V278.79M228.49 267.05V269.14M232.01 201.99V206.82M232.01 268.92V272.81M235.48 245.22V247.22M235.48 230.16V235.86M239.47 263.47V268.89M239.47 274.85V277.84M243.08 209.24V211.86M243.08 240.68V245.4M246.62 272.47V277.36M246.62 249.7V254.76M250.11 235.73V239.93M250.11 203.95V209.08M254.17 218.53V224.21M254.17 249.99V253.21M258.25 211.97V214.97M258.25 249.88V254.67" fill="none" stroke="#d65858" stroke-width="0.8" opacity="0.8"/>
<line x1="169.75" y1="187.8" x2="169.75" y2="281" stroke="#999" stroke-width="1.4"/>
<circle cx="169.75" cy="187.8" r="1" fill="#111"/>
<line x1="169.05" y1="281" x2="273.75" y2="281" stroke="#666" stroke-width="1.1"/>
<path d="M273.75 279.7L276.25 281L273.75 282.3Z" fill="#333"/>
<text x="276.95" y="286.6" font-family="Liberation Serif" font-size="7.4" fill="#333">s</text>
<path d="M200.15 281v1.8M230.25 281v1.8M260.55 281v1.8M184.95 281v1M215.25 281v1M245.35 281v1" stroke="#333" stroke-width="0.8"/>
<text x="165.95" y="189.6" font-family="Liberation Serif" font-size="6" text-anchor="end" fill="#222">mmHg</text>
<text x="165.15" y="266" font-family="Liberation Serif" font-size="7" text-anchor="end" fill="#111">10.0</text>
<line x1="168.25" y1="263.8" x2="169.75" y2="263.8" stroke="#333" stroke-width="0.8"/>
<text x="165.15" y="249.1" font-family="Liberation Serif" font-size="7" text-anchor="end" fill="#111">20.0</text>
<line x1="168.25" y1="246.9" x2="169.75" y2="246.9" stroke="#333" stroke-width="0.8"/>
<text x="165.15" y="232.7" font-family="Liberation Serif" font-size="7" text-anchor="end" fill="#111">30.0</text>
<line x1="168.25" y1="230.5" x2="169.75" y2="230.5" stroke="#333" stroke-width="0.8"/>
<text x="165.15" y="216.1" font-family="Liberation Serif" font-size="7" text-anchor="end" fill="#111">40.0</text>
<line x1="168.25" y1="213.9" x2="169.75" y2="213.9" stroke="#333" stroke-width="0.8"/>
<text x="165.15" y="201.8" font-family="Liberation Serif" font-size="7" text-anchor="end" fill="#111">50.0</text>
<line x1="168.25" y1="199.6" x2="169.75" y2="199.6" stroke="#333" stroke-width="0.8"/>
<text x="166.3" y="290.4" font-family="Liberation Serif" font-size="7.2" text-anchor="middle" fill="#111">0</text>
<text x="201" y="290.4" font-family="Liberation Serif" font-size="7.2" text-anchor="middle" fill="#111">4.0</text>
<text x="230.6" y="290.4" font-family="Liberation Serif" font-size="7.2" text-anchor="middle" fill="#111">8.0</text>
<text x="260.3" y="290.4" font-family="Liberation Serif" font-size="7.2" text-anchor="middle" fill="#111">12.0</text>
<text x="218.15" y="191" font-family="Liberation Serif" font-weight="bold" font-size="7.6" letter-spacing="0.2" text-anchor="middle" fill="#111">SuHx</text>
<line x1="303.4" y1="265.2" x2="395.4" y2="265.2" stroke="#eee" stroke-width="0.6"/>
<line x1="303.4" y1="248.3" x2="395.4" y2="248.3" stroke="#eee" stroke-width="0.6"/>
<line x1="303.4" y1="231.9" x2="395.4" y2="231.9" stroke="#eee" stroke-width="0.6"/>
<line x1="303.4" y1="215.3" x2="395.4" y2="215.3" stroke="#eee" stroke-width="0.6"/>
<line x1="303.4" y1="201" x2="395.4" y2="201" stroke="#eee" stroke-width="0.6"/>
<line x1="333.8" y1="196.4" x2="333.8" y2="282.4" stroke="#f0f0f0" stroke-width="0.6"/>
<line x1="364.2" y1="196.4" x2="364.2" y2="282.4" stroke="#f0f0f0" stroke-width="0.6"/>
<line x1="394.6" y1="196.4" x2="394.6" y2="282.4" stroke="#f0f0f0" stroke-width="0.6"/>
<polygon points="304.4,278.4 304.6,207.96 305.94,209.96 307.18,207.02 308.52,209.02 309.74,205.82 311.08,207.82 312.56,213.88 313.9,215.88 315.4,211.25 316.74,213.25 318.14,213.28 319.48,215.28 320.78,210.92 322.12,212.92 323.64,210.89 324.98,212.89 326.17,213.04 327.51,215.04 328.86,211.18 330.2,213.18 331.63,213.81 332.97,215.81 334.69,211.98 336.03,213.98 337.57,210.75 338.91,212.75 340.59,210.89 341.93,212.89 343.37,211.67 344.71,213.67 346.02,212.66 347.36,214.66 348.68,213.8 350.02,215.8 351.74,210.59 353.08,212.59 354.66,211.57 356,213.57 357.35,210.85 358.69,212.85 359.88,213.9 361.22,215.9 362.68,210.57 364.02,212.57 365.58,210.21 366.92,212.21 368.33,210.24 369.67,212.24 371,211.57 372.34,213.57 373.89,213.59 375.23,215.59 376.93,213.53 378.27,215.53 379.57,212.93 380.91,214.93 382.11,213.99 383.45,215.99 384.82,213.73 386.16,215.73 387.58,211.32 388.92,213.32 390.48,210.74 391.82,212.74 393.11,213.74 394.45,215.74 394.59,278.4" fill="#f5d3d3"/>
<path d="M304.4 279.41L305.1 206.96L305.66 236.04L306.68 277.91L306.98 280.84L307.68 206.02L308.24 245.65L309.24 280.16L309.54 279.57L310.24 204.82L310.8 235.05L312.06 277.66L312.36 280.14L313.06 212.88L313.62 244.72L314.9 279.62L315.2 280.15L315.9 210.25L316.46 244.73L317.64 279.52L317.94 280.24L318.64 212.28L319.2 239.81L320.28 280.23L320.58 280.56L321.28 209.92L321.84 245.32L323.14 278.73L323.44 280.89L324.14 209.89L324.7 243.74L325.67 279.01L325.97 280.34L326.67 212.04L327.23 236.28L328.36 279.87L328.66 280.2L329.36 210.18L329.92 241.34L331.13 278.28L331.43 278.99L332.13 212.81L332.69 248.6L334.19 278.22L334.49 280.65L335.19 210.98L335.75 238.87L337.07 279.79L337.37 278.97L338.07 209.75L338.63 240.81L340.09 277.12L340.39 280.49L341.09 209.89L341.65 237.18L342.87 278.88L343.17 280.19L343.87 210.67L344.43 245.27L345.52 278.54L345.82 279.26L346.52 211.66L347.08 245.77L348.18 278.04L348.48 279.26L349.18 212.8L349.74 240.41L351.24 278.62L351.54 280.04L352.24 209.59L352.8 239.34L354.16 278.47L354.46 280.8L355.16 210.57L355.72 236.26L356.85 280.41L357.15 279.95L357.85 209.85L358.41 244.94L359.38 279.46L359.68 280.15L360.38 212.9L360.94 237.31L362.18 280.09L362.48 279.06L363.18 209.57L363.74 241.57L365.08 278.41L365.38 280.51L366.08 209.21L366.64 248.14L367.83 278.75L368.13 280.17L368.83 209.24L369.39 248.08L370.5 279.64L370.8 279.11L371.5 210.57L372.06 235.71L373.39 278.91L373.69 280.84L374.39 212.59L374.95 243.28L376.43 279.42L376.73 280.08L377.43 212.53L377.99 242.21L379.07 279.61L379.37 279.28L380.07 211.93L380.63 241.12L381.61 278.04L381.91 279.37L382.61 212.99L383.17 245.17L384.32 277.87L384.62 280.82L385.32 212.73L385.88 248.09L387.08 279.49L387.38 280.83L388.08 210.32L388.64 236.71L389.98 279.15L390.28 280.77L390.98 209.74L391.54 238.78L392.61 279.64L392.91 279.06L393.61 212.74L394.17 240.9L395.41 277.58" fill="none" stroke="url(#wg303)" stroke-width="0.55" stroke-linejoin="round" opacity="0.8"/>
<path d="M305.8 279.41L306.5 207.55L307.06 236.26L308.08 278.92L308.38 280.84L309.08 206.48L309.64 245.65L310.64 279.68L310.94 279.57L311.64 205.8L312.2 237.46L313.46 277.59L313.76 280.14L314.46 214.4L315.02 240.45L316.3 278.53L316.6 280.15L317.3 212.21L317.86 249.45L319.04 279.95L319.34 280.24L320.04 213.7L320.6 247.89L321.68 278.56L321.98 280.56L322.68 212.67L323.24 236.98L324.54 279.97L324.84 280.89L325.54 210.24L326.1 237.65L327.07 278.95L327.37 280.34L328.07 213.79L328.63 249.46L329.76 279.6L330.06 280.2L330.76 212.78L331.32 242.43L332.53 279.68L332.83 278.99L333.53 215.14L334.09 249.56L335.59 278.78L335.89 280.65L336.59 212.77L337.15 244.95L338.47 280.22L338.77 278.97L339.47 210.86L340.03 236.62L341.49 278.56L341.79 280.49L342.49 210.66L343.05 243.47L344.27 279.18L344.57 280.19L345.27 211.28L345.83 235.55L346.92 279.53L347.22 279.26L347.92 213.7L348.48 239.07L349.58 278.63L349.88 279.26L350.58 213.41L351.14 246.93L352.64 278.16L352.94 280.04L353.64 209.78L354.2 235.79L355.56 279.24L355.86 280.8L356.56 212.22L357.12 244.99L358.25 280.62L358.55 279.95L359.25 210.34L359.81 244.39L360.78 279.13L361.08 280.15L361.78 213.75L362.34 241.07L363.58 278.25L363.88 279.06L364.58 210.5L365.14 242.27L366.48 278.35L366.78 280.51L367.48 210.46L368.04 247.09L369.23 278.52L369.53 280.17L370.23 210.33L370.79 237.53L371.9 278.72L372.2 279.11L372.9 211.18L373.46 235.04L374.79 277.3L375.09 280.84L375.79 213.86L376.35 248.29L377.83 280.03L378.13 280.08L378.83 215.18L379.39 243.88L380.47 279.75L380.77 279.28L381.47 211.98L382.03 242.95L383.01 278L383.31 279.37L384.01 215.72L384.57 239.13L385.72 278.12L386.02 280.82L386.72 213.84L387.28 244.04L388.48 280.53L388.78 280.83L389.48 211.17L390.04 242.81L391.38 278.98L391.68 280.77L392.38 210.07L392.94 241.75L394.01 279.17L394.31 279.06L395.01 215.64L395.57 240.34L396.81 278.81" fill="none" stroke="url(#wg303)" stroke-width="0.5" stroke-linejoin="round" opacity="0.5"/>
<path d="M304.75 279.41V206.96M307.33 280.84V206.02M309.89 279.57V204.82M312.71 280.14V212.88M315.55 280.15V210.25M318.29 280.24V212.28M320.93 280.56V209.92M323.79 280.89V209.89M326.32 280.34V212.04M329.01 280.2V210.18M331.78 278.99V212.81M334.84 280.65V210.98M337.72 278.97V209.75M340.74 280.49V209.89M343.52 280.19V210.67M346.17 279.26V211.66M348.83 279.26V212.8M351.89 280.04V209.59M354.81 280.8V210.57M357.5 279.95V209.85M360.03 280.15V212.9M362.83 279.06V209.57M365.73 280.51V209.21M368.48 280.17V209.24M371.15 279.11V210.57M374.04 280.84V212.59M377.08 280.08V212.53M379.72 279.28V211.93M382.26 279.37V212.99M384.97 280.82V212.73M387.73 280.83V210.32M390.63 280.77V209.74M393.26 279.06V212.74" fill="none" stroke="url(#wg303)" stroke-width="0.6" opacity="0.7"/>
<rect x="382.2" y="211" width="1.6" height="30" fill="#fff"/>
<line x1="384.4" y1="280.4" x2="384.4" y2="208.8" stroke="#e07a7a" stroke-width="0.9"/>
<path d="M304.4 274.33V280.24M304.4 241.44V243.66M306.98 273.06V276.61M306.98 271.47V275.95M309.54 265.49V268.13M309.54 262.64V265.53M312.36 239.38V244.77M312.36 267.21V269.94M315.2 225.11V228.71M315.2 245.54V249.08M317.94 220.42V223.4M317.94 260.21V265.8M320.58 212.74V216.99M320.58 261.79V263.94M323.44 267.31V269.79M323.44 250.96V255.16M325.97 253.65V256.88M325.97 239.92V244.25M328.66 239.22V243.86M328.66 240.66V244.41M331.43 214.34V218.82M331.43 244.92V247.86M334.49 262.46V267.58M334.49 241.88V244.6M337.37 242.24V244.66M337.37 218.57V222.29M340.39 216.18V219.94M340.39 244.84V247.01M343.17 253.78V256.1M343.17 260.35V265.46M345.82 245.8V248.01M345.82 245.29V248.8M348.48 275.18V277.72M348.48 269.02V275.01M351.54 259.96V265.22M351.54 222.92V228.84M354.46 243.94V249.76M354.46 272.71V275.37M357.15 263.89V269.62M357.15 214.34V217.75M359.68 262.43V265.06M359.68 271.62V274.72M362.48 265.71V268.28M362.48 244.14V249.82M365.38 223.62V226.67M365.38 244.22V247.5M368.13 211.79V214.52M368.13 220.39V226.14M370.8 256.67V262.26M370.8 222.02V227.16M373.69 220.17V224.29M373.69 254.47V257.91M376.73 270.03V274.25M376.73 250.74V256.27M379.37 218.88V224.86M379.37 253.79V257.37M381.91 265.17V268.22M381.91 277.78V281.4M384.62 236.39V241.44M384.62 241.77V244.48M387.38 260.94V263.14M387.38 266.13V269.15M390.28 253.63V259.57M390.28 249.97V254.62M392.91 233.27V235.28M392.91 214.96V217.56" fill="none" stroke="#d65858" stroke-width="0.8" opacity="0.8"/>
<line x1="303.4" y1="189.2" x2="303.4" y2="282.4" stroke="#444" stroke-width="1.4"/>
<circle cx="303.4" cy="189.2" r="1" fill="#111"/>
<line x1="302.7" y1="282.4" x2="407.4" y2="282.4" stroke="#666" stroke-width="1.1"/>
<path d="M407.4 281.1L409.9 282.4L407.4 283.7Z" fill="#333"/>
<text x="410.6" y="288" font-family="Liberation Serif" font-size="7.4" fill="#333">s</text>
<path d="M333.8 282.4v1.8M363.9 282.4v1.8M394.2 282.4v1.8M318.6 282.4v1M348.9 282.4v1M379 282.4v1" stroke="#333" stroke-width="0.8"/>
<text x="299.6" y="191" font-family="Liberation Serif" font-size="6" text-anchor="end" fill="#222">mmHg</text>
<text x="298.8" y="267.4" font-family="Liberation Serif" font-size="7" text-anchor="end" fill="#111">10.0</text>
<line x1="301.9" y1="265.2" x2="303.4" y2="265.2" stroke="#333" stroke-width="0.8"/>
<text x="298.8" y="250.5" font-family="Liberation Serif" font-size="7" text-anchor="end" fill="#111">20.0</text>
<line x1="301.9" y1="248.3" x2="303.4" y2="248.3" stroke="#333" stroke-width="0.8"/>
<text x="298.8" y="234.1" font-family="Liberation Serif" font-size="7" text-anchor="end" fill="#111">30.0</text>
<line x1="301.9" y1="231.9" x2="303.4" y2="231.9" stroke="#333" stroke-width="0.8"/>
<text x="298.8" y="217.5" font-family="Liberation Serif" font-size="7" text-anchor="end" fill="#111">40.0</text>
<line x1="301.9" y1="215.3" x2="303.4" y2="215.3" stroke="#333" stroke-width="0.8"/>
<text x="298.8" y="203.2" font-family="Liberation Serif" font-size="7" text-anchor="end" fill="#111">50.0</text>
<line x1="301.9" y1="201" x2="303.4" y2="201" stroke="#333" stroke-width="0.8"/>
<text x="299.9" y="291.8" font-family="Liberation Serif" font-size="7.2" text-anchor="middle" fill="#111">0</text>
<text x="334" y="291.8" font-family="Liberation Serif" font-size="7.2" text-anchor="middle" fill="#111">4.0</text>
<text x="363.75" y="291.8" font-family="Liberation Serif" font-size="7.2" text-anchor="middle" fill="#111">8.0</text>
<text x="393.4" y="291.8" font-family="Liberation Serif" font-size="7.2" text-anchor="middle" fill="#111">12.0</text>
<text x="351.4" y="189.8" font-family="Liberation Serif" font-weight="bold" font-size="7.6" letter-spacing="0.2" text-anchor="middle" fill="#111">ERE-LD</text>
<line x1="434.8" y1="265.2" x2="526.8" y2="265.2" stroke="#eee" stroke-width="0.6"/>
<line x1="434.8" y1="248.3" x2="526.8" y2="248.3" stroke="#eee" stroke-width="0.6"/>
<line x1="434.8" y1="231.9" x2="526.8" y2="231.9" stroke="#eee" stroke-width="0.6"/>
<line x1="434.8" y1="215.3" x2="526.8" y2="215.3" stroke="#eee" stroke-width="0.6"/>
<line x1="434.8" y1="201" x2="526.8" y2="201" stroke="#eee" stroke-width="0.6"/>
<line x1="465.2" y1="196.4" x2="465.2" y2="282.4" stroke="#f0f0f0" stroke-width="0.6"/>
<line x1="495.6" y1="196.4" x2="495.6" y2="282.4" stroke="#f0f0f0" stroke-width="0.6"/>
<line x1="526" y1="196.4" x2="526" y2="282.4" stroke="#f0f0f0" stroke-width="0.6"/>
<polygon points="435.8,278.4 436,218.5 437.45,220.5 439.07,220.66 440.52,222.66 442.03,221.12 443.48,223.12 445.04,223.75 446.49,225.75 448.27,222.36 449.72,224.36 451.05,219.24 452.5,221.24 453.89,220.84 455.34,222.84 456.98,217.28 458.43,219.28 459.69,220.07 461.14,222.07 462.4,220.75 463.85,222.75 465.31,220.9 466.76,222.9 468.07,220 469.52,222 470.99,221.82 472.44,223.82 473.82,217.57 475.27,219.57 476.87,219.21 478.32,221.21 479.93,221.42 481.38,223.42 482.75,219.44 484.2,221.44 485.82,220.68 487.27,222.68 488.81,222.25 490.26,224.25 491.59,220.88 493.04,222.88 494.85,220.05 496.3,222.05 497.7,220.25 499.15,222.25 500.49,218.22 501.94,220.22 503.24,219.91 504.69,221.91 506.33,221 507.78,223 509.55,220.05 511,222.05 512.72,222.33 514.17,224.33 515.66,220.67 517.11,222.67 518.52,219.86 519.97,221.86 521.22,217.48 522.67,219.48 524.31,222.11 525.76,224.11 525.91,278.4" fill="#f5d3d3"/>
<path d="M435.8 279.41L436.5 217.5L437.15 243.24L438.57 278.93L438.87 279.97L439.57 219.66L440.22 251.71L441.53 278.71L441.83 279.42L442.53 220.12L443.18 249.09L444.54 278.09L444.84 280L445.54 222.75L446.19 253.99L447.77 279.06L448.07 280.45L448.77 221.36L449.42 251.96L450.55 279.05L450.85 280.69L451.55 218.24L452.2 250.81L453.39 279.82L453.69 280.44L454.39 219.84L455.04 249.83L456.48 279.29L456.78 280.82L457.48 216.28L458.13 242.84L459.19 280.4L459.49 280.23L460.19 219.07L460.84 248.09L461.9 280.07L462.2 279.4L462.9 219.75L463.55 251.49L464.81 279.11L465.11 279.51L465.81 219.9L466.46 241.08L467.57 279.3L467.87 279.21L468.57 219L469.22 251.26L470.49 278.52L470.79 279.48L471.49 220.82L472.14 243.01L473.32 279.42L473.62 280.37L474.32 216.57L474.97 239.43L476.37 278.98L476.67 279.79L477.37 218.21L478.02 247.57L479.43 278.4L479.73 280.03L480.43 220.42L481.08 250.07L482.25 279.9L482.55 279.32L483.25 218.44L483.9 246.94L485.32 278.6L485.62 279.85L486.32 219.68L486.97 250.58L488.31 278.21L488.61 280.37L489.31 221.25L489.96 252.48L491.09 280.24L491.39 279.62L492.09 219.88L492.74 251.16L494.35 277.79L494.65 278.97L495.35 219.05L496 251.34L497.2 278.76L497.5 280.47L498.2 219.25L498.85 243.2L499.99 280.24L500.29 279.14L500.99 217.22L501.64 239.32L502.74 277.44L503.04 280.87L503.74 218.91L504.39 250.66L505.83 279.6L506.13 280.38L506.83 220L507.48 251.09L509.05 279.12L509.35 280.43L510.05 219.05L510.7 244.06L512.22 280.23L512.52 279.41L513.22 221.33L513.87 242.8L515.16 277.9L515.46 279.01L516.16 219.67L516.81 242.87L518.02 278.37L518.32 279.41L519.02 218.86L519.67 245.18L520.72 279.37L521.02 280.25L521.72 216.48L522.37 242.07L523.81 279.68L524.11 279.14L524.81 221.11L525.46 249.73L526.81 278.4" fill="none" stroke="url(#wg434)" stroke-width="0.55" stroke-linejoin="round" opacity="0.8"/>
<path d="M437.3 279.41L438 218.46L438.65 251.54L440.07 278.4L440.37 279.97L441.07 222.21L441.72 249.57L443.03 279.91L443.33 279.42L444.03 221.36L444.68 246.75L446.04 277.87L446.34 280L447.04 223.79L447.69 251.38L449.27 278.92L449.57 280.45L450.27 222.01L450.92 252.54L452.05 280.27L452.35 280.69L453.05 220.7L453.7 243.74L454.89 280.69L455.19 280.44L455.89 220.44L456.54 250.59L457.98 278.48L458.28 280.82L458.98 216.29L459.63 245.21L460.69 279.84L460.99 280.23L461.69 221.46L462.34 244.2L463.4 279.24L463.7 279.4L464.4 220.79L465.05 251.05L466.31 278.88L466.61 279.51L467.31 222.73L467.96 245.82L469.07 279.08L469.37 279.21L470.07 221.1L470.72 247.23L471.99 278.99L472.29 279.48L472.99 222.73L473.64 243.51L474.82 277.9L475.12 280.37L475.82 218.66L476.47 249.97L477.87 279.11L478.17 279.79L478.87 219.27L479.52 245.31L480.93 279L481.23 280.03L481.93 223.09L482.58 244L483.75 278.25L484.05 279.32L484.75 218.52L485.4 242.31L486.82 278.8L487.12 279.85L487.82 222.38L488.47 248.26L489.81 279.09L490.11 280.37L490.81 223.9L491.46 246.3L492.59 279.45L492.89 279.62L493.59 221.48L494.24 250.6L495.85 278.11L496.15 278.97L496.85 220.99L497.5 245.33L498.7 278.32L499 280.47L499.7 219.72L500.35 251.22L501.49 279.14L501.79 279.14L502.49 219.45L503.14 242.36L504.24 278.26L504.54 280.87L505.24 221.23L505.89 249.01L507.33 280.62L507.63 280.38L508.33 221.38L508.98 252.47L510.55 279.9L510.85 280.43L511.55 219.63L512.2 244.57L513.72 279.02L514.02 279.41L514.72 223.86L515.37 245.02L516.66 279.1L516.96 279.01L517.66 220.41L518.31 244.75L519.52 277.97L519.82 279.41L520.52 219.34L521.17 244.31L522.22 279.03L522.52 280.25L523.22 219.4L523.87 249.57L525.31 280.04L525.61 279.14L526.31 223.99L526.96 244.42L528.31 278.37" fill="none" stroke="url(#wg434)" stroke-width="0.5" stroke-linejoin="round" opacity="0.5"/>
<path d="M436.15 279.41V217.5M439.22 279.97V219.66M442.18 279.42V220.12M445.19 280V222.75M448.42 280.45V221.36M451.2 280.69V218.24M454.04 280.44V219.84M457.13 280.82V216.28M459.84 280.23V219.07M462.55 279.4V219.75M465.46 279.51V219.9M468.22 279.21V219M471.14 279.48V220.82M473.97 280.37V216.57M477.02 279.79V218.21M480.08 280.03V220.42M482.9 279.32V218.44M485.97 279.85V219.68M488.96 280.37V221.25M491.74 279.62V219.88M495 278.97V219.05M497.85 280.47V219.25M500.64 279.14V217.22M503.39 280.87V218.91M506.48 280.38V220M509.7 280.43V219.05M512.87 279.41V221.33M515.81 279.01V219.67M518.67 279.41V218.86M521.37 280.25V216.48M524.46 279.14V221.11" fill="none" stroke="url(#wg434)" stroke-width="0.6" opacity="0.7"/>
<path d="M435.8 277.42V281.4M435.8 262.16V265.9M438.87 231.18V235.74M438.87 225.94V228.76M441.83 242.76V244.89M441.83 243.38V248.54M444.84 261.34V265.34M444.84 257.94V261.79M448.07 229.45V233.86M448.07 244.45V249.41M450.85 272.87V276.59M450.85 252.77V257.77M453.69 244.5V247.42M453.69 262.13V267.65M456.78 264.36V269.16M456.78 269.23V273.95M459.49 257.13V260.95M459.49 237.64V242.15M462.2 225.49V229.17M462.2 265.64V270.49M465.11 256.73V259.73M465.11 244.68V248.5M467.87 255.92V259.56M467.87 259.11V264.83M470.79 231.36V235.98M470.79 265.63V269.18M473.62 246.85V252.75M473.62 218.92V223.1M476.67 227.89V233.02M476.67 274.82V278.9M479.73 226.28V230.58M479.73 251.79V256.66M482.55 249.15V253.71M482.55 268.15V272.23M485.62 243.78V249.57M485.62 232.02V236.75M488.61 243.68V248.73M488.61 228.24V234.18M491.39 240.68V242.91M491.39 235.94V239.54M494.65 219.84V223.52M494.65 244.01V248.81M497.5 240.08V243.14M497.5 232.53V237.49M500.29 274.73V278.83M500.29 230.61V235.82M503.04 242.23V245.08M503.04 226.6V231.71M506.13 267.28V271.82M506.13 247.4V251.64M509.35 232.46V238.32M509.35 240.01V244.57M512.52 268.06V273.32M512.52 248.04V251.22M515.46 251.87V254.37M515.46 268.64V272.05M518.32 269.51V272.58M518.32 241.26V244.27M521.02 242.86V245.61M521.02 216.65V221.53M524.11 237.22V240.2M524.11 238.4V242.32" fill="none" stroke="#d65858" stroke-width="0.8" opacity="0.8"/>
<line x1="434.8" y1="189.2" x2="434.8" y2="282.4" stroke="#555" stroke-width="1.4"/>
<circle cx="434.8" cy="189.2" r="1" fill="#111"/>
<line x1="434.1" y1="282.4" x2="538.8" y2="282.4" stroke="#666" stroke-width="1.1"/>
<path d="M538.8 281.1L541.3 282.4L538.8 283.7Z" fill="#333"/>
<text x="542" y="288" font-family="Liberation Serif" font-size="7.4" fill="#333">s</text>
<path d="M465.2 282.4v1.8M495.3 282.4v1.8M525.6 282.4v1.8M450 282.4v1M480.3 282.4v1M510.4 282.4v1" stroke="#333" stroke-width="0.8"/>
<text x="431" y="191" font-family="Liberation Serif" font-size="6" text-anchor="end" fill="#222">mmHg</text>
<text x="430.2" y="267.4" font-family="Liberation Serif" font-size="7" text-anchor="end" fill="#111">10.0</text>
<line x1="433.3" y1="265.2" x2="434.8" y2="265.2" stroke="#333" stroke-width="0.8"/>
<text x="430.2" y="250.5" font-family="Liberation Serif" font-size="7" text-anchor="end" fill="#111">20.0</text>
<line x1="433.3" y1="248.3" x2="434.8" y2="248.3" stroke="#333" stroke-width="0.8"/>
<text x="430.2" y="234.1" font-family="Liberation Serif" font-size="7" text-anchor="end" fill="#111">30.0</text>
<line x1="433.3" y1="231.9" x2="434.8" y2="231.9" stroke="#333" stroke-width="0.8"/>
<text x="430.2" y="217.5" font-family="Liberation Serif" font-size="7" text-anchor="end" fill="#111">40.0</text>
<line x1="433.3" y1="215.3" x2="434.8" y2="215.3" stroke="#333" stroke-width="0.8"/>
<text x="430.2" y="203.2" font-family="Liberation Serif" font-size="7" text-anchor="end" fill="#111">50.0</text>
<line x1="433.3" y1="201" x2="434.8" y2="201" stroke="#333" stroke-width="0.8"/>
<text x="431" y="291.8" font-family="Liberation Serif" font-size="7.2" text-anchor="middle" fill="#111">0</text>
<text x="464" y="291.8" font-family="Liberation Serif" font-size="7.2" text-anchor="middle" fill="#111">4.0</text>
<text x="493.75" y="291.8" font-family="Liberation Serif" font-size="7.2" text-anchor="middle" fill="#111">8.0</text>
<text x="525" y="291.8" font-family="Liberation Serif" font-size="7.2" text-anchor="middle" fill="#111">12.0</text>
<text x="480.4" y="191" font-family="Liberation Serif" font-weight="bold" font-size="7.6" letter-spacing="0.2" text-anchor="middle" fill="#111">ERE-HD</text>
<line x1="564.5" y1="265.2" x2="656.5" y2="265.2" stroke="#eee" stroke-width="0.6"/>
<line x1="564.5" y1="248.3" x2="656.5" y2="248.3" stroke="#eee" stroke-width="0.6"/>
<line x1="564.5" y1="231.9" x2="656.5" y2="231.9" stroke="#eee" stroke-width="0.6"/>
<line x1="564.5" y1="215.3" x2="656.5" y2="215.3" stroke="#eee" stroke-width="0.6"/>
<line x1="564.5" y1="201" x2="656.5" y2="201" stroke="#eee" stroke-width="0.6"/>
<line x1="594.9" y1="196.4" x2="594.9" y2="282.4" stroke="#f0f0f0" stroke-width="0.6"/>
<line x1="625.3" y1="196.4" x2="625.3" y2="282.4" stroke="#f0f0f0" stroke-width="0.6"/>
<line x1="655.7" y1="196.4" x2="655.7" y2="282.4" stroke="#f0f0f0" stroke-width="0.6"/>
<polygon points="565.5,278.4 565.7,225.47 567.15,227.47 568.66,225.56 570.11,227.56 571.74,224.75 573.19,226.75 574.84,225.25 576.29,227.25 577.75,223.44 579.2,225.44 581.01,226.33 582.46,228.33 584.22,226.12 585.67,228.12 586.96,226.75 588.41,228.75 590.15,224.75 591.6,226.75 593.4,225.61 594.85,227.61 596.57,223.83 598.02,225.83 599.35,222.84 600.8,224.84 602.55,223.49 604,225.49 605.63,224 607.08,226 608.34,225.91 609.79,227.91 611.05,224.16 612.5,226.16 614.32,225.15 615.77,227.15 617.41,222.95 618.86,224.95 620.26,223.71 621.71,225.71 623.02,223.62 624.47,225.62 625.81,224.21 627.26,226.21 628.65,226.29 630.1,228.29 631.81,223.71 633.26,225.71 634.72,227.36 636.17,229.36 637.51,225.61 638.96,227.61 640.76,225.15 642.21,227.15 643.93,224.68 645.38,226.68 646.73,224.98 648.18,226.98 649.97,223.34 651.42,225.34 653.03,224.29 654.48,226.29 654.63,278.4" fill="#f5d3d3"/>
<path d="M565.5 278.98L566.2 224.47L566.85 249.04L568.16 278.44L568.46 280.75L569.16 224.56L569.81 249.92L571.24 278.8L571.54 279.63L572.24 223.75L572.89 250.62L574.34 278.04L574.64 279.63L575.34 224.25L575.99 247.3L577.25 278.99L577.55 280.84L578.25 222.44L578.9 246.38L580.51 279.67L580.81 279.68L581.51 225.33L582.16 251.26L583.72 278.11L584.02 279.53L584.72 225.12L585.37 244.6L586.46 278.09L586.76 279.04L587.46 225.75L588.11 253.84L589.65 277.95L589.95 280.24L590.65 223.75L591.3 244.08L592.9 279.64L593.2 278.94L593.9 224.61L594.55 243.69L596.07 278.56L596.37 279.88L597.07 222.83L597.72 253.31L598.85 278.66L599.15 279.93L599.85 221.84L600.5 249.82L602.05 278.35L602.35 279.1L603.05 222.49L603.7 252.61L605.13 277.88L605.43 280.83L606.13 223L606.78 250.37L607.84 279.58L608.14 279.46L608.84 224.91L609.49 251.6L610.55 278.27L610.85 279.65L611.55 223.16L612.2 250.63L613.82 279.22L614.12 280.22L614.82 224.15L615.47 251.25L616.91 279.31L617.21 279.18L617.91 221.95L618.56 250.71L619.76 278.97L620.06 280.17L620.76 222.71L621.41 244.9L622.52 280.09L622.82 279.95L623.52 222.62L624.17 251.56L625.31 278.12L625.61 279.85L626.31 223.21L626.96 250.46L628.15 279.11L628.45 279.36L629.15 225.29L629.8 253.11L631.31 277.79L631.61 280.48L632.31 222.71L632.96 249.42L634.22 279.96L634.52 280.03L635.22 226.36L635.87 248.39L637.01 279.19L637.31 280.06L638.01 224.61L638.66 247.55L640.26 279.19L640.56 279.79L641.26 224.15L641.91 250.77L643.43 277.92L643.73 279.25L644.43 223.68L645.08 243.73L646.23 278.11L646.53 280.31L647.23 223.98L647.88 244.14L649.47 280.08L649.77 279.24L650.47 222.34L651.12 251.48L652.53 278.09L652.83 280.09L653.53 223.29L654.18 253.61L655.53 279.2" fill="none" stroke="url(#wg564)" stroke-width="0.55" stroke-linejoin="round" opacity="0.8"/>
<path d="M567 278.98L567.7 224.51L568.35 247.79L569.66 277.79L569.96 280.75L570.66 227.38L571.31 256.53L572.74 279.8L573.04 279.63L573.74 224.99L574.39 245.23L575.84 278.34L576.14 279.63L576.84 224.89L577.49 245.71L578.75 279.6L579.05 280.84L579.75 222.45L580.4 250.87L582.01 280.6L582.31 279.68L583.01 228.23L583.66 247.15L585.22 277.94L585.52 279.53L586.22 225.51L586.87 244.61L587.96 278.1L588.26 279.04L588.96 226.48L589.61 252.59L591.15 278.66L591.45 280.24L592.15 223.9L592.8 252.34L594.4 278.81L594.7 278.94L595.4 227.18L596.05 252.85L597.57 278.77L597.87 279.88L598.57 224.72L599.22 251.85L600.35 278.96L600.65 279.93L601.35 224.64L602 246.8L603.55 278L603.85 279.1L604.55 224.64L605.2 243.83L606.63 279.08L606.93 280.83L607.63 224.95L608.28 253.64L609.34 280.67L609.64 279.46L610.34 225.84L610.99 252.43L612.05 279.13L612.35 279.65L613.05 225.75L613.7 249.86L615.32 279.53L615.62 280.22L616.32 225.25L616.97 250.81L618.41 279.35L618.71 279.18L619.41 223.98L620.06 244.9L621.26 277.58L621.56 280.17L622.26 223.8L622.91 250.8L624.02 278.91L624.32 279.95L625.02 223.87L625.67 247.82L626.81 278.38L627.11 279.85L627.81 226.04L628.46 253.32L629.65 278.72L629.95 279.36L630.65 226.17L631.3 245.43L632.81 277.41L633.11 280.48L633.81 224.82L634.46 253.51L635.72 279.81L636.02 280.03L636.72 228.18L637.37 256.46L638.51 278.37L638.81 280.06L639.51 226.41L640.16 248.5L641.76 279.2L642.06 279.79L642.76 226.81L643.41 249.35L644.93 278.42L645.23 279.25L645.93 225.48L646.58 253.94L647.73 277.63L648.03 280.31L648.73 224.83L649.38 244.27L650.97 279.79L651.27 279.24L651.97 223.61L652.62 249.61L654.03 277.61L654.33 280.09L655.03 225.95L655.68 245.36L657.03 278.43" fill="none" stroke="url(#wg564)" stroke-width="0.5" stroke-linejoin="round" opacity="0.5"/>
<path d="M565.85 278.98V224.47M568.81 280.75V224.56M571.89 279.63V223.75M574.99 279.63V224.25M577.9 280.84V222.44M581.16 279.68V225.33M584.37 279.53V225.12M587.11 279.04V225.75M590.3 280.24V223.75M593.55 278.94V224.61M596.72 279.88V222.83M599.5 279.93V221.84M602.7 279.1V222.49M605.78 280.83V223M608.49 279.46V224.91M611.2 279.65V223.16M614.47 280.22V224.15M617.56 279.18V221.95M620.41 280.17V222.71M623.17 279.95V222.62M625.96 279.85V223.21M628.8 279.36V225.29M631.96 280.48V222.71M634.87 280.03V226.36M637.66 280.06V224.61M640.91 279.79V224.15M644.08 279.25V223.68M646.88 280.31V223.98M650.12 279.24V222.34M653.18 280.09V223.29" fill="none" stroke="url(#wg564)" stroke-width="0.6" opacity="0.7"/>
<path d="M565.5 268.25V273.72M565.5 255.31V258.41M568.46 270.39V275.62M568.46 261.42V267.08M571.54 242.71V245.05M571.54 254.01V259.2M574.64 235.1V240.1M574.64 274.7V277.64M577.55 256.4V261.11M577.55 248.48V251.31M580.81 238.85V243.86M580.81 267.34V271.18M584.02 229.79V235.02M584.02 266.26V269.19M586.76 256.27V261.86M586.76 272.35V276.44M589.95 249.8V254.15M589.95 234.09V236.86M593.2 234.33V239.13M593.2 244.13V248.38M596.37 245.2V249.27M596.37 231.11V233.29M599.15 278.24V281.4M599.15 227.84V232.38M602.35 266.51V269.13M602.35 255.88V259.26M605.43 251.78V253.86M605.43 224.86V230.82M608.14 271.24V275.18M608.14 255.25V258.29M610.85 266.2V269.91M610.85 275.44V280.51M614.12 268.57V274.42M614.12 237.93V240.08M617.21 233.3V236.02M617.21 226.67V228.88M620.06 253.75V259.23M620.06 248.23V254.02M622.82 273.37V275.63M622.82 255.98V259.57M625.61 229.82V235.66M625.61 237.4V241.66M628.45 259.31V265.14M628.45 260.86V264.43M631.61 247.68V250.32M631.61 276.49V281.4M634.52 237.9V240.06M634.52 239.68V243.09M637.31 273.17V278.79M637.31 269.64V271.83M640.56 266.81V271.65M640.56 259.23V265.17M643.73 226.73V229.31M643.73 264.99V270.75M646.53 260.82V264.01M646.53 256.17V261.2M649.77 228.25V231.55M649.77 236.75V239.25M652.83 249.82V252.49M652.83 236.43V239" fill="none" stroke="#d65858" stroke-width="0.8" opacity="0.8"/>
<line x1="564.5" y1="189.2" x2="564.5" y2="282.4" stroke="#555" stroke-width="1.4"/>
<circle cx="564.5" cy="189.2" r="1" fill="#111"/>
<line x1="563.8" y1="282.4" x2="668.5" y2="282.4" stroke="#666" stroke-width="1.1"/>
<path d="M668.5 281.1L671 282.4L668.5 283.7Z" fill="#333"/>
<text x="671.7" y="288" font-family="Liberation Serif" font-size="7.4" fill="#333">s</text>
<path d="M594.9 282.4v1.8M625 282.4v1.8M655.3 282.4v1.8M579.7 282.4v1M610 282.4v1M640.1 282.4v1" stroke="#333" stroke-width="0.8"/>
<text x="560.7" y="191" font-family="Liberation Serif" font-size="6" text-anchor="end" fill="#222">mmHg</text>
<text x="559.9" y="267.4" font-family="Liberation Serif" font-size="7" text-anchor="end" fill="#111">10.0</text>
<line x1="563" y1="265.2" x2="564.5" y2="265.2" stroke="#333" stroke-width="0.8"/>
<text x="559.9" y="250.5" font-family="Liberation Serif" font-size="7" text-anchor="end" fill="#111">20.0</text>
<line x1="563" y1="248.3" x2="564.5" y2="248.3" stroke="#333" stroke-width="0.8"/>
<text x="559.9" y="234.1" font-family="Liberation Serif" font-size="7" text-anchor="end" fill="#111">30.0</text>
<line x1="563" y1="231.9" x2="564.5" y2="231.9" stroke="#333" stroke-width="0.8"/>
<text x="559.9" y="217.5" font-family="Liberation Serif" font-size="7" text-anchor="end" fill="#111">40.0</text>
<line x1="563" y1="215.3" x2="564.5" y2="215.3" stroke="#333" stroke-width="0.8"/>
<text x="559.9" y="203.2" font-family="Liberation Serif" font-size="7" text-anchor="end" fill="#111">50.0</text>
<line x1="563" y1="201" x2="564.5" y2="201" stroke="#333" stroke-width="0.8"/>
<text x="561" y="291.8" font-family="Liberation Serif" font-size="7.2" text-anchor="middle" fill="#111">0</text>
<text x="593.4" y="291.8" font-family="Liberation Serif" font-size="7.2" text-anchor="middle" fill="#111">4.0</text>
<text x="624.7" y="291.8" font-family="Liberation Serif" font-size="7.2" text-anchor="middle" fill="#111">8.0</text>
<text x="656" y="291.8" font-family="Liberation Serif" font-size="7.2" text-anchor="middle" fill="#111">12.0</text>
<text x="611.5" y="191" font-family="Liberation Serif" font-weight="bold" font-size="7.6" letter-spacing="0.2" text-anchor="middle" fill="#111">SD</text>
<rect x="13" y="318" width="125" height="127.5" fill="#000"/>
<path d="M13.5 445.5V318.5H138" fill="none" stroke="#777" stroke-width="1"/>
<text x="18.8" y="331.5" font-family="Liberation Serif" font-size="12" fill="#f4f4f4">Control</text>
<g filter="url(#spk)"><rect x="14" y="356.5" width="93" height="4" fill="#fff" fill-opacity="0.35"/><path d="M21.6 357.5L28.6 418Q34.55 390.75 37.5 357.5Z" fill="url(#vg5)"/><path d="M28.6 418Q34.55 390.75 37.5 357.5H29.5Q30.15 390.75 28.6 418Z" fill="url(#vg5b)"/><path d="M58.3 357.5L63.8 424Q71.4 393.75 76 357.5Z" fill="url(#vg5)"/><path d="M63.8 424Q71.4 393.75 76 357.5H68Q67 393.75 63.8 424Z" fill="url(#vg5b)"/><path d="M23 357.5Q28 351 33 357.5Z" fill="#fff" fill-opacity="0.4"/><path d="M59 357.5Q64 351 69 357.5Z" fill="#fff" fill-opacity="0.4"/></g>
<path d="M21.6 357.5L28.6 418" stroke="#ddd" stroke-width="0.8"/>
<path d="M58.3 357.5L63.8 424" stroke="#ddd" stroke-width="0.8"/>
<g filter="url(#spk)"><path d="M22.5 357.5L23.7 352L24 349C25.6 351.98 25.8 356 27.6 357.5Z" fill="#fff" fill-opacity="0.75"/><path d="M37 357.5L38.2 351L38.5 348C40.1 351.32 40.3 356 42.1 357.5Z" fill="#fff" fill-opacity="0.75"/><path d="M58.5 357.5L59.7 353L60 350C61.6 352.62 61.8 356 63.6 357.5Z" fill="#fff" fill-opacity="0.75"/><path d="M73.5 357.5L74.7 352L75 349C76.6 351.98 76.8 356 78.6 357.5Z" fill="#fff" fill-opacity="0.75"/></g>
<path d="M23.2 357.5L24 349" stroke="#ccc" stroke-width="0.7"/>
<path d="M37.7 357.5L38.5 348" stroke="#ccc" stroke-width="0.7"/>
<path d="M59.2 357.5L60 350" stroke="#ccc" stroke-width="0.7"/>
<path d="M74.2 357.5L75 349" stroke="#ccc" stroke-width="0.7"/>
<path d="M14 357.5q1.5 -2.2 3 0q1.5 2.2 3 0M20 357.5q1.5 -2.2 3 0q1.5 2.2 3 0M26 357.5q1.5 -2.2 3 0q1.5 2.2 3 0M32 357.5q1.5 -2.2 3 0q1.5 2.2 3 0M38 357.5q1.5 -2.2 3 0q1.5 2.2 3 0M44 357.5q1.5 -2.2 3 0q1.5 2.2 3 0M50 357.5q1.5 -2.2 3 0q1.5 2.2 3 0M56 357.5q1.5 -2.2 3 0q1.5 2.2 3 0M62 357.5q1.5 -2.2 3 0q1.5 2.2 3 0M68 357.5q1.5 -2.2 3 0q1.5 2.2 3 0M74 357.5q1.5 -2.2 3 0q1.5 2.2 3 0M80 357.5q1.5 -2.2 3 0q1.5 2.2 3 0M86 357.5q1.5 -2.2 3 0q1.5 2.2 3 0M92 357.5q1.5 -2.2 3 0q1.5 2.2 3 0M98 357.5q1.5 -2.2 3 0q1.5 2.2 3 0" fill="none" stroke="#bbb" stroke-width="0.6" opacity="0.3"/>
<line x1="13" y1="357.5" x2="107" y2="357.5" stroke="#e8e8e8" stroke-width="1.1"/>
<path d="M20.5 357.5V424.2H28.6V357.5" fill="none" stroke="#bbb" stroke-width="0.6" stroke-dasharray="0.9 1.4"/>
<text x="16.8" y="436.6" font-family="Liberation Serif" font-size="8.6" letter-spacing="0.45" fill="#f0f0f0">PAT</text>
<path d="M111.6 322.5h1M111.2 326.4h1.8M111.6 330.3h1M111.2 334.2h1.8M111.6 338.1h1M111.2 342h1.8M111.6 345.9h1M111.2 349.8h1.8M111.6 353.7h1M111.2 357.6h1.8M111.6 361.5h1M111.2 365.4h1.8M111.6 369.3h1M111.2 373.2h1.8M111.6 377.1h1M111.2 381h1.8M111.6 384.9h1M111.2 388.8h1.8M111.6 392.7h1M111.2 396.6h1.8M111.6 400.5h1M111.2 404.4h1.8M111.6 408.3h1M111.2 412.2h1.8M111.6 416.1h1M111.2 420h1.8M111.6 423.9h1M111.2 427.8h1.8M111.6 431.7h1M111.2 435.6h1.8M111.6 439.5h1" stroke="#ccc" stroke-width="0.8"/>
<text x="118.1" y="324.1" font-family="Liberation Sans" font-size="4.6" fill="#aaa">40</text>
<text x="118.1" y="335.6" font-family="Liberation Sans" font-size="4.6" fill="#aaa">20</text>
<text x="118.1" y="358.6" font-family="Liberation Sans" font-size="4.6" fill="#aaa">0</text>
<text x="118.1" y="381.6" font-family="Liberation Sans" font-size="4.6" fill="#aaa">-20</text>
<text x="118.1" y="405.2" font-family="Liberation Sans" font-size="4.6" fill="#aaa">-40</text>
<text x="118.1" y="427.6" font-family="Liberation Sans" font-size="4.6" fill="#aaa">-60</text>
<text x="118.1" y="439.1" font-family="Liberation Sans" font-size="4.6" fill="#aaa">-664</text>
<text transform="translate(131.1,384) rotate(90)" font-family="Liberation Sans" font-size="3.8" text-anchor="middle" fill="#999">Velocity (cm/s)</text>
<path d="M101.9 327.6L105.1 332.4" stroke="#fff" stroke-width="1.5" stroke-linecap="round"/>
<ellipse cx="101.9" cy="327.6" rx="1.2" ry="1.6" fill="#fff"/><ellipse cx="105.1" cy="332.4" rx="1.4" ry="1.7" fill="#fff"/><ellipse cx="107.75" cy="327.6" rx="1.2" ry="1.6" fill="#fff"/>
<rect x="150" y="318" width="125" height="127.5" fill="#000"/>
<path d="M150.5 445.5V318.5H275" fill="none" stroke="#777" stroke-width="1"/>
<text x="159" y="333" font-family="Liberation Serif" font-size="12" fill="#f4f4f4">SuHx</text>
<g filter="url(#spk)"><rect x="151" y="365.3" width="94" height="4" fill="#fff" fill-opacity="0.35"/><path d="M158.6 366.3L163.5 428Q171.25 400.15 176 366.3Z" fill="url(#vg7)"/><path d="M163.5 428Q171.25 400.15 176 366.3H168Q166.85 400.15 163.5 428Z" fill="url(#vg7b)"/><path d="M202.4 366.3L208.2 425.5Q215.9 398.9 220.6 366.3Z" fill="url(#vg7)"/><path d="M208.2 425.5Q215.9 398.9 220.6 366.3H212.6Q211.5 398.9 208.2 425.5Z" fill="url(#vg7b)"/></g>
<path d="M158.6 366.3L163.5 428" stroke="#ddd" stroke-width="0.8"/>
<path d="M202.4 366.3L208.2 425.5" stroke="#ddd" stroke-width="0.8"/>
<g filter="url(#spk)"><path d="M176.7 366.3L177.9 344.6L178.2 341.6C179.8 350.25 181.35 364.8 184.5 366.3Z" fill="#fff" fill-opacity="0.75"/><path d="M220.9 366.3L222.1 344L222.4 341C224 349.86 225.55 364.8 228.7 366.3Z" fill="#fff" fill-opacity="0.75"/></g>
<path d="M177.4 366.3L178.2 341.6" stroke="#ccc" stroke-width="0.7"/>
<path d="M221.6 366.3L222.4 341" stroke="#ccc" stroke-width="0.7"/>
<path d="M151 366.3q1.5 -2.2 3 0q1.5 2.2 3 0M157 366.3q1.5 -2.2 3 0q1.5 2.2 3 0M163 366.3q1.5 -2.2 3 0q1.5 2.2 3 0M169 366.3q1.5 -2.2 3 0q1.5 2.2 3 0M175 366.3q1.5 -2.2 3 0q1.5 2.2 3 0M181 366.3q1.5 -2.2 3 0q1.5 2.2 3 0M187 366.3q1.5 -2.2 3 0q1.5 2.2 3 0M193 366.3q1.5 -2.2 3 0q1.5 2.2 3 0M199 366.3q1.5 -2.2 3 0q1.5 2.2 3 0M205 366.3q1.5 -2.2 3 0q1.5 2.2 3 0M211 366.3q1.5 -2.2 3 0q1.5 2.2 3 0M217 366.3q1.5 -2.2 3 0q1.5 2.2 3 0M223 366.3q1.5 -2.2 3 0q1.5 2.2 3 0M229 366.3q1.5 -2.2 3 0q1.5 2.2 3 0M235 366.3q1.5 -2.2 3 0q1.5 2.2 3 0" fill="none" stroke="#bbb" stroke-width="0.6" opacity="0.8"/>
<line x1="150" y1="366.3" x2="245" y2="366.3" stroke="#e8e8e8" stroke-width="1.1"/>
<path d="M158.6 366.3V430.6H164V366.3" fill="none" stroke="#bbb" stroke-width="0.6" stroke-dasharray="0.9 1.4"/>
<text x="154.3" y="441.8" font-family="Liberation Serif" font-size="8.6" letter-spacing="0.45" fill="#f0f0f0">PAT</text>
<path d="M247.5 322.5h1M247.1 326.4h1.8M247.5 330.3h1M247.1 334.2h1.8M247.5 338.1h1M247.1 342h1.8M247.5 345.9h1M247.1 349.8h1.8M247.5 353.7h1M247.1 357.6h1.8M247.5 361.5h1M247.1 365.4h1.8M247.5 369.3h1M247.1 373.2h1.8M247.5 377.1h1M247.1 381h1.8M247.5 384.9h1M247.1 388.8h1.8M247.5 392.7h1M247.1 396.6h1.8M247.5 400.5h1M247.1 404.4h1.8M247.5 408.3h1M247.1 412.2h1.8M247.5 416.1h1M247.1 420h1.8M247.5 423.9h1M247.1 427.8h1.8M247.5 431.7h1M247.1 435.6h1.8M247.5 439.5h1" stroke="#ccc" stroke-width="0.8"/>
<text x="254" y="325.9" font-family="Liberation Sans" font-size="4.6" fill="#aaa">537</text>
<text x="254" y="344.1" font-family="Liberation Sans" font-size="4.6" fill="#aaa">300</text>
<text x="254" y="367.6" font-family="Liberation Sans" font-size="4.6" fill="#aaa">0</text>
<text x="254" y="391.3" font-family="Liberation Sans" font-size="4.6" fill="#aaa">-300</text>
<text x="254" y="414.4" font-family="Liberation Sans" font-size="4.6" fill="#aaa">-600</text>
<text x="254" y="442.1" font-family="Liberation Sans" font-size="4.6" fill="#aaa">-900</text>
<text transform="translate(267,384) rotate(90)" font-family="Liberation Sans" font-size="3.8" text-anchor="middle" fill="#999">Velocity (cm/s)</text>
<path d="M237.3 328.4L240.5 333.2" stroke="#fff" stroke-width="1.5" stroke-linecap="round"/>
<ellipse cx="237.3" cy="328.4" rx="1.2" ry="1.6" fill="#fff"/><ellipse cx="240.5" cy="333.2" rx="1.4" ry="1.7" fill="#fff"/><ellipse cx="243.15" cy="328.4" rx="1.2" ry="1.6" fill="#fff"/>
<rect x="287" y="319.5" width="124" height="126" fill="#000"/>
<path d="M287.5 445.5V320H411" fill="none" stroke="#777" stroke-width="1"/>
<text x="293.3" y="333" font-family="Liberation Serif" font-size="12" fill="#f4f4f4">ERE-LD</text>
<g filter="url(#spk)"><rect x="288" y="320.5" width="91" height="124" fill="#fff" fill-opacity="0.06"/><rect x="288" y="356.3" width="89.5" height="4" fill="#fff" fill-opacity="0.35"/><path d="M293.5 357.3L298.3 426.6Q307.15 394.95 313 357.3Z" fill="url(#vg9)"/><path d="M298.3 426.6Q307.15 394.95 313 357.3H301Q300.55 394.95 298.3 426.6Z" fill="url(#vg9b)"/><path d="M335 357.3L339.6 428Q349.3 395.65 356 357.3Z" fill="url(#vg9)"/><path d="M339.6 428Q349.3 395.65 356 357.3H344Q342.7 395.65 339.6 428Z" fill="url(#vg9b)"/></g>
<path d="M293.5 357.3L298.3 426.6" stroke="#ddd" stroke-width="0.8"/>
<path d="M335 357.3L339.6 428" stroke="#ddd" stroke-width="0.8"/>
<g filter="url(#spk)"><path d="M311.5 357.3L312.7 345.5L313 342.5C314.6 347.68 318.4 355.8 323.8 357.3Z" fill="#fff" fill-opacity="0.75"/><path d="M354.3 357.3L355.5 345L355.8 342C357.4 347.36 361.2 355.8 366.6 357.3Z" fill="#fff" fill-opacity="0.75"/></g>
<path d="M312.2 357.3L313 342.5" stroke="#ccc" stroke-width="0.7"/>
<path d="M355 357.3L355.8 342" stroke="#ccc" stroke-width="0.7"/>
<path d="M288 357.3q1.5 -2.2 3 0q1.5 2.2 3 0M294 357.3q1.5 -2.2 3 0q1.5 2.2 3 0M300 357.3q1.5 -2.2 3 0q1.5 2.2 3 0M306 357.3q1.5 -2.2 3 0q1.5 2.2 3 0M312 357.3q1.5 -2.2 3 0q1.5 2.2 3 0M318 357.3q1.5 -2.2 3 0q1.5 2.2 3 0M324 357.3q1.5 -2.2 3 0q1.5 2.2 3 0M330 357.3q1.5 -2.2 3 0q1.5 2.2 3 0M336 357.3q1.5 -2.2 3 0q1.5 2.2 3 0M342 357.3q1.5 -2.2 3 0q1.5 2.2 3 0M348 357.3q1.5 -2.2 3 0q1.5 2.2 3 0M354 357.3q1.5 -2.2 3 0q1.5 2.2 3 0M360 357.3q1.5 -2.2 3 0q1.5 2.2 3 0M366 357.3q1.5 -2.2 3 0q1.5 2.2 3 0" fill="none" stroke="#bbb" stroke-width="0.6" opacity="0.3"/>
<line x1="287" y1="357.3" x2="377.5" y2="357.3" stroke="#e8e8e8" stroke-width="1.1"/>
<path d="M292.4 357.3V429.6H298.3V357.3" fill="none" stroke="#bbb" stroke-width="0.6" stroke-dasharray="0.9 1.4"/>
<text x="289.9" y="441.4" font-family="Liberation Serif" font-size="8.6" letter-spacing="0.45" fill="#f0f0f0">PAT</text>
<path d="M380.5 324h1M380.1 327.9h1.8M380.5 331.8h1M380.1 335.7h1.8M380.5 339.6h1M380.1 343.5h1.8M380.5 347.4h1M380.1 351.3h1.8M380.5 355.2h1M380.1 359.1h1.8M380.5 363h1M380.1 366.9h1.8M380.5 370.8h1M380.1 374.7h1.8M380.5 378.6h1M380.1 382.5h1.8M380.5 386.4h1M380.1 390.3h1.8M380.5 394.2h1M380.1 398.1h1.8M380.5 402h1M380.1 405.9h1.8M380.5 409.8h1M380.1 413.7h1.8M380.5 417.6h1M380.1 421.5h1.8M380.5 425.4h1M380.1 429.3h1.8M380.5 433.2h1M380.1 437.1h1.8M380.5 441h1" stroke="#ccc" stroke-width="0.8"/>
<text x="387" y="326.4" font-family="Liberation Sans" font-size="4.6" fill="#aaa">417</text>
<text x="387" y="358.9" font-family="Liberation Sans" font-size="4.6" fill="#aaa">0</text>
<text x="387" y="382.5" font-family="Liberation Sans" font-size="4.6" fill="#aaa">-300</text>
<text x="387" y="405.5" font-family="Liberation Sans" font-size="4.6" fill="#aaa">-600</text>
<text x="387" y="428.5" font-family="Liberation Sans" font-size="4.6" fill="#aaa">-900</text>
<text x="387" y="442.1" font-family="Liberation Sans" font-size="4.6" fill="#aaa">-1039</text>
<text transform="translate(400,385.5) rotate(90)" font-family="Liberation Sans" font-size="3.8" text-anchor="middle" fill="#999">Velocity (cm/s)</text>
<path d="M369.3 328.9L372.5 333.7" stroke="#fff" stroke-width="1.5" stroke-linecap="round"/>
<ellipse cx="369.3" cy="328.9" rx="1.2" ry="1.6" fill="#fff"/><ellipse cx="372.5" cy="333.7" rx="1.4" ry="1.7" fill="#fff"/><ellipse cx="375.15" cy="328.9" rx="1.2" ry="1.6" fill="#fff"/>
<rect x="424" y="319" width="124" height="126.5" fill="#000"/>
<path d="M424.5 445.5V319.5H548" fill="none" stroke="#777" stroke-width="1"/>
<text x="430.2" y="333" font-family="Liberation Serif" font-size="12" fill="#f4f4f4">ERE-HD</text>
<g filter="url(#spk)"><rect x="425" y="358.7" width="94.6" height="4" fill="#fff" fill-opacity="0.35"/><path d="M434.4 359.7L435.3 429.6C445.46 415.62 448.5 391.16 448 359.7Z" fill="url(#vg11)"/><path d="M435.3 429.6C445.46 415.62 448.5 391.16 448 359.7H437C438.6 391.16 439.96 415.62 435.3 429.6Z" fill="url(#vg11b)"/><path d="M466.2 359.7L469.2 431C479.84 416.74 483 391.78 482.5 359.7Z" fill="url(#vg11)"/><path d="M469.2 431C479.84 416.74 483 391.78 482.5 359.7H471.5C473.1 391.78 474.34 416.74 469.2 431Z" fill="url(#vg11b)"/><path d="M430 359.7Q434 349 438 359.7Z" fill="#fff" fill-opacity="0.4"/><path d="M464 359.7Q468 350 472 359.7Z" fill="#fff" fill-opacity="0.4"/></g>
<path d="M434.4 359.7L435.3 429.6" stroke="#ddd" stroke-width="0.8"/>
<path d="M466.2 359.7L469.2 431" stroke="#ddd" stroke-width="0.8"/>
<g filter="url(#spk)"><path d="M447 359.7L448.2 335.2L448.5 332.2C450.1 341.82 452.1 358.2 455.7 359.7Z" fill="#fff" fill-opacity="0.75"/><path d="M481 359.7L482.2 330.8L482.5 327.8C484.1 338.97 486.1 358.2 489.7 359.7Z" fill="#fff" fill-opacity="0.75"/></g>
<path d="M447.7 359.7L448.5 332.2" stroke="#ccc" stroke-width="0.7"/>
<path d="M481.7 359.7L482.5 327.8" stroke="#ccc" stroke-width="0.7"/>
<path d="M425 359.7q1.5 -2.2 3 0q1.5 2.2 3 0M431 359.7q1.5 -2.2 3 0q1.5 2.2 3 0M437 359.7q1.5 -2.2 3 0q1.5 2.2 3 0M443 359.7q1.5 -2.2 3 0q1.5 2.2 3 0M449 359.7q1.5 -2.2 3 0q1.5 2.2 3 0M455 359.7q1.5 -2.2 3 0q1.5 2.2 3 0M461 359.7q1.5 -2.2 3 0q1.5 2.2 3 0M467 359.7q1.5 -2.2 3 0q1.5 2.2 3 0M473 359.7q1.5 -2.2 3 0q1.5 2.2 3 0M479 359.7q1.5 -2.2 3 0q1.5 2.2 3 0M485 359.7q1.5 -2.2 3 0q1.5 2.2 3 0M491 359.7q1.5 -2.2 3 0q1.5 2.2 3 0M497 359.7q1.5 -2.2 3 0q1.5 2.2 3 0M503 359.7q1.5 -2.2 3 0q1.5 2.2 3 0M509 359.7q1.5 -2.2 3 0q1.5 2.2 3 0" fill="none" stroke="#bbb" stroke-width="0.6" opacity="0.4"/>
<line x1="424" y1="359.7" x2="519.6" y2="359.7" stroke="#e8e8e8" stroke-width="1.1"/>
<path d="M429.4 359.7V431H436.2V359.7" fill="none" stroke="#bbb" stroke-width="0.6" stroke-dasharray="0.9 1.4"/>
<text x="427.6" y="442" font-family="Liberation Serif" font-size="8.6" letter-spacing="0.45" fill="#f0f0f0">PAT</text>
<path d="M522.2 323.5h1M521.8 327.4h1.8M522.2 331.3h1M521.8 335.2h1.8M522.2 339.1h1M521.8 343h1.8M522.2 346.9h1M521.8 350.8h1.8M522.2 354.7h1M521.8 358.6h1.8M522.2 362.5h1M521.8 366.4h1.8M522.2 370.3h1M521.8 374.2h1.8M522.2 378.1h1M521.8 382h1.8M522.2 385.9h1M521.8 389.8h1.8M522.2 393.7h1M521.8 397.6h1.8M522.2 401.5h1M521.8 405.4h1.8M522.2 409.3h1M521.8 413.2h1.8M522.2 417.1h1M521.8 421h1.8M522.2 424.9h1M521.8 428.8h1.8M522.2 432.7h1M521.8 436.6h1.8M522.2 440.5h1" stroke="#ccc" stroke-width="0.8"/>
<text x="528.7" y="326.4" font-family="Liberation Sans" font-size="4.6" fill="#aaa">402</text>
<text x="528.7" y="335.9" font-family="Liberation Sans" font-size="4.6" fill="#aaa">300</text>
<text x="528.7" y="360.4" font-family="Liberation Sans" font-size="4.6" fill="#aaa">0</text>
<text x="528.7" y="384" font-family="Liberation Sans" font-size="4.6" fill="#aaa">-300</text>
<text x="528.7" y="407.6" font-family="Liberation Sans" font-size="4.6" fill="#aaa">-600</text>
<text x="528.7" y="430.3" font-family="Liberation Sans" font-size="4.6" fill="#aaa">-900</text>
<text x="528.7" y="443" font-family="Liberation Sans" font-size="4.6" fill="#aaa">-1064</text>
<text transform="translate(541.7,385) rotate(90)" font-family="Liberation Sans" font-size="3.8" text-anchor="middle" fill="#999">Velocity (cm/s)</text>
<path d="M512.4 329.4L515.6 334.2" stroke="#fff" stroke-width="1.5" stroke-linecap="round"/>
<ellipse cx="512.4" cy="329.4" rx="1.2" ry="1.6" fill="#fff"/><ellipse cx="515.6" cy="334.2" rx="1.4" ry="1.7" fill="#fff"/><ellipse cx="518.25" cy="329.4" rx="1.2" ry="1.6" fill="#fff"/>
<rect x="560" y="319" width="124" height="126.5" fill="#000"/>
<path d="M560.5 445.5V319.5H684" fill="none" stroke="#777" stroke-width="1"/>
<text x="565.8" y="333" font-family="Liberation Serif" font-size="12" fill="#f4f4f4">SD</text>
<g filter="url(#spk)"><rect x="561" y="368.1" width="88" height="4" fill="#fff" fill-opacity="0.35"/><path d="M572.3 369.1L582.3 422.6C593.9 411.9 597.3 393.18 596.8 369.1Z" fill="url(#vg13)"/><path d="M582.3 422.6C593.9 411.9 597.3 393.18 596.8 369.1H585.8C587.4 393.18 588.4 411.9 582.3 422.6Z" fill="url(#vg13b)"/><path d="M619.2 369.1L629.2 420.4C639.92 410.14 643.1 392.19 642.6 369.1Z" fill="url(#vg13)"/><path d="M629.2 420.4C639.92 410.14 643.1 392.19 642.6 369.1H631.6C633.2 392.19 634.42 410.14 629.2 420.4Z" fill="url(#vg13b)"/><path d="M572 369.1Q576 361 580 369.1Z" fill="#fff" fill-opacity="0.4"/><path d="M618 369.1Q622 361 626 369.1Z" fill="#fff" fill-opacity="0.4"/></g>
<path d="M572.3 369.1L582.3 422.6" stroke="#ddd" stroke-width="0.8"/>
<path d="M619.2 369.1L629.2 420.4" stroke="#ddd" stroke-width="0.8"/>
<g filter="url(#spk)"><path d="M594.2 369.1L595.4 359.7L595.7 356.7C597.3 361.04 597.95 367.6 600.2 369.1Z" fill="#fff" fill-opacity="0.75"/><path d="M639.3 369.1L640.5 362L640.8 359C642.4 362.54 643.05 367.6 645.3 369.1Z" fill="#fff" fill-opacity="0.75"/></g>
<path d="M594.9 369.1L595.7 356.7" stroke="#ccc" stroke-width="0.7"/>
<path d="M640 369.1L640.8 359" stroke="#ccc" stroke-width="0.7"/>
<path d="M561 369.1q1.5 -2.2 3 0q1.5 2.2 3 0M567 369.1q1.5 -2.2 3 0q1.5 2.2 3 0M573 369.1q1.5 -2.2 3 0q1.5 2.2 3 0M579 369.1q1.5 -2.2 3 0q1.5 2.2 3 0M585 369.1q1.5 -2.2 3 0q1.5 2.2 3 0M591 369.1q1.5 -2.2 3 0q1.5 2.2 3 0M597 369.1q1.5 -2.2 3 0q1.5 2.2 3 0M603 369.1q1.5 -2.2 3 0q1.5 2.2 3 0M609 369.1q1.5 -2.2 3 0q1.5 2.2 3 0M615 369.1q1.5 -2.2 3 0q1.5 2.2 3 0M621 369.1q1.5 -2.2 3 0q1.5 2.2 3 0M627 369.1q1.5 -2.2 3 0q1.5 2.2 3 0M633 369.1q1.5 -2.2 3 0q1.5 2.2 3 0M639 369.1q1.5 -2.2 3 0q1.5 2.2 3 0" fill="none" stroke="#bbb" stroke-width="0.6" opacity="0.4"/>
<line x1="560" y1="369.1" x2="649" y2="369.1" stroke="#e8e8e8" stroke-width="1.1"/>
<path d="M575 369.1V424.6H584V369.1" fill="none" stroke="#bbb" stroke-width="0.6" stroke-dasharray="0.9 1.4"/>
<text x="573.4" y="438.2" font-family="Liberation Serif" font-size="8.6" letter-spacing="0.45" fill="#f0f0f0">PAT</text>
<path d="M653.1 323.5h1M652.7 327.4h1.8M653.1 331.3h1M652.7 335.2h1.8M653.1 339.1h1M652.7 343h1.8M653.1 346.9h1M652.7 350.8h1.8M653.1 354.7h1M652.7 358.6h1.8M653.1 362.5h1M652.7 366.4h1.8M653.1 370.3h1M652.7 374.2h1.8M653.1 378.1h1M652.7 382h1.8M653.1 385.9h1M652.7 389.8h1.8M653.1 393.7h1M652.7 397.6h1.8M653.1 401.5h1M652.7 405.4h1.8M653.1 409.3h1M652.7 413.2h1.8M653.1 417.1h1M652.7 421h1.8M653.1 424.9h1M652.7 428.8h1.8M653.1 432.7h1M652.7 436.6h1.8M653.1 440.5h1" stroke="#ccc" stroke-width="0.8"/>
<text x="659.6" y="326.4" font-family="Liberation Sans" font-size="4.6" fill="#aaa">552</text>
<text x="659.6" y="347.1" font-family="Liberation Sans" font-size="4.6" fill="#aaa">300</text>
<text x="659.6" y="370.6" font-family="Liberation Sans" font-size="4.6" fill="#aaa">0</text>
<text x="659.6" y="394.3" font-family="Liberation Sans" font-size="4.6" fill="#aaa">-300</text>
<text x="659.6" y="417.3" font-family="Liberation Sans" font-size="4.6" fill="#aaa">-600</text>
<text x="659.6" y="443" font-family="Liberation Sans" font-size="4.6" fill="#aaa">-844</text>
<text transform="translate(672.6,385) rotate(90)" font-family="Liberation Sans" font-size="3.8" text-anchor="middle" fill="#999">Velocity (cm/s)</text>
<path d="M641.6 330.5L644.8 335.3" stroke="#fff" stroke-width="1.5" stroke-linecap="round"/>
<ellipse cx="641.6" cy="330.5" rx="1.2" ry="1.6" fill="#fff"/><ellipse cx="644.8" cy="335.3" rx="1.4" ry="1.7" fill="#fff"/><ellipse cx="647.45" cy="330.5" rx="1.2" ry="1.6" fill="#fff"/>
<path d="M13.8 441.4H109.6V380" fill="none" stroke="#3a3a3a" stroke-width="0.8"/>
<path d="M287.5 443.4H377.8V358" fill="none" stroke="#4a4a4a" stroke-width="0.8"/>
</svg></body></html>
